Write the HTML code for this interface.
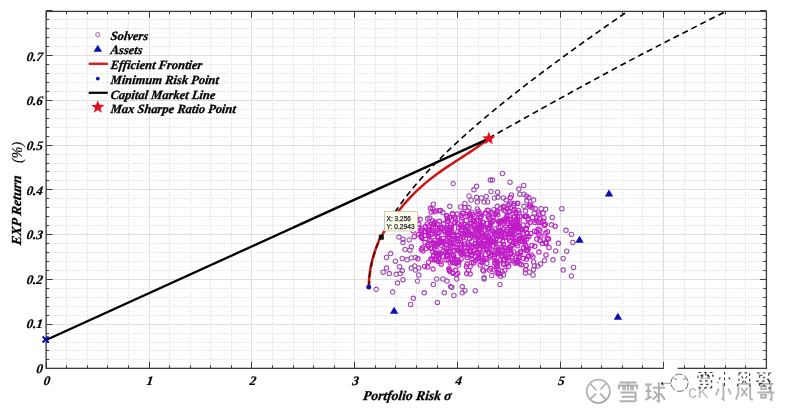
<!DOCTYPE html><html><head><meta charset="utf-8"><style>html,body{margin:0;padding:0;width:800px;height:416px;overflow:hidden;background:#fff}</style></head><body><svg width="800" height="416" viewBox="0 0 800 416" style="position:absolute;left:0;top:0">
<rect x="0" y="0" width="800" height="416" fill="#fff"/>
<defs><filter id="gb" x="0" y="0" width="100%" height="100%" filterUnits="userSpaceOnUse"><feGaussianBlur stdDeviation="0.3"/></filter></defs><g filter="url(#gb)">
<path d="M66.50 11.30V368.30M87.50 11.30V368.30M107.50 11.30V368.30M128.50 11.30V368.30M169.50 11.30V368.30M190.50 11.30V368.30M210.50 11.30V368.30M231.50 11.30V368.30M272.50 11.30V368.30M293.50 11.30V368.30M313.50 11.30V368.30M334.50 11.30V368.30M375.50 11.30V368.30M395.50 11.30V368.30M416.50 11.30V368.30M437.50 11.30V368.30M478.50 11.30V368.30M498.50 11.30V368.30M519.50 11.30V368.30M540.50 11.30V368.30M581.50 11.30V368.30M601.50 11.30V368.30M622.50 11.30V368.30M642.50 11.30V368.30M684.50 11.30V368.30M704.50 11.30V368.30M725.50 11.30V368.30M745.50 11.30V368.30M46.10 359.50H766.40M46.10 350.50H766.40M46.10 342.50H766.40M46.10 333.50H766.40M46.10 315.50H766.40M46.10 306.50H766.40M46.10 297.50H766.40M46.10 288.50H766.40M46.10 270.50H766.40M46.10 261.50H766.40M46.10 252.50H766.40M46.10 243.50H766.40M46.10 225.50H766.40M46.10 216.50H766.40M46.10 207.50H766.40M46.10 198.50H766.40M46.10 180.50H766.40M46.10 171.50H766.40M46.10 163.50H766.40M46.10 154.50H766.40M46.10 136.50H766.40M46.10 127.50H766.40M46.10 118.50H766.40M46.10 109.50H766.40M46.10 91.50H766.40M46.10 82.50H766.40M46.10 73.50H766.40M46.10 64.50H766.40M46.10 46.50H766.40M46.10 37.50H766.40M46.10 28.50H766.40M46.10 19.50H766.40" stroke="#cfcfcf" stroke-width="0.9" stroke-dasharray="0.9 1.8" fill="none"/>
<path d="M149.50 11.30V368.30M251.50 11.30V368.30M354.50 11.30V368.30M457.50 11.30V368.30M560.50 11.30V368.30M663.50 11.30V368.30M46.10 324.50H766.40M46.10 279.50H766.40M46.10 234.50H766.40M46.10 189.50H766.40M46.10 145.50H766.40M46.10 100.50H766.40M46.10 55.50H766.40" stroke="#dedede" stroke-width="1" fill="none"/>
<path d="M46.50 368.30v-6.5M46.50 11.30v6.5M66.50 368.30v-3M66.50 11.30v3M87.50 368.30v-3M87.50 11.30v3M107.50 368.30v-3M107.50 11.30v3M128.50 368.30v-3M128.50 11.30v3M149.50 368.30v-6.5M149.50 11.30v6.5M169.50 368.30v-3M169.50 11.30v3M190.50 368.30v-3M190.50 11.30v3M210.50 368.30v-3M210.50 11.30v3M231.50 368.30v-3M231.50 11.30v3M251.50 368.30v-6.5M251.50 11.30v6.5M272.50 368.30v-3M272.50 11.30v3M293.50 368.30v-3M293.50 11.30v3M313.50 368.30v-3M313.50 11.30v3M334.50 368.30v-3M334.50 11.30v3M354.50 368.30v-6.5M354.50 11.30v6.5M375.50 368.30v-3M375.50 11.30v3M395.50 368.30v-3M395.50 11.30v3M416.50 368.30v-3M416.50 11.30v3M437.50 368.30v-3M437.50 11.30v3M457.50 368.30v-6.5M457.50 11.30v6.5M478.50 368.30v-3M478.50 11.30v3M498.50 368.30v-3M498.50 11.30v3M519.50 368.30v-3M519.50 11.30v3M540.50 368.30v-3M540.50 11.30v3M560.50 368.30v-6.5M560.50 11.30v6.5M581.50 368.30v-3M581.50 11.30v3M601.50 368.30v-3M601.50 11.30v3M622.50 368.30v-3M622.50 11.30v3M642.50 368.30v-3M642.50 11.30v3M663.50 368.30v-6.5M663.50 11.30v6.5M684.50 368.30v-3M684.50 11.30v3M704.50 368.30v-3M704.50 11.30v3M725.50 368.30v-3M725.50 11.30v3M745.50 368.30v-3M745.50 11.30v3M766.50 368.30v-6.5M766.50 11.30v6.5M46.10 368.50h6.5M766.40 368.50h-6.5M46.10 359.50h3M766.40 359.50h-3M46.10 350.50h3M766.40 350.50h-3M46.10 342.50h3M766.40 342.50h-3M46.10 333.50h3M766.40 333.50h-3M46.10 324.50h6.5M766.40 324.50h-6.5M46.10 315.50h3M766.40 315.50h-3M46.10 306.50h3M766.40 306.50h-3M46.10 297.50h3M766.40 297.50h-3M46.10 288.50h3M766.40 288.50h-3M46.10 279.50h6.5M766.40 279.50h-6.5M46.10 270.50h3M766.40 270.50h-3M46.10 261.50h3M766.40 261.50h-3M46.10 252.50h3M766.40 252.50h-3M46.10 243.50h3M766.40 243.50h-3M46.10 234.50h6.5M766.40 234.50h-6.5M46.10 225.50h3M766.40 225.50h-3M46.10 216.50h3M766.40 216.50h-3M46.10 207.50h3M766.40 207.50h-3M46.10 198.50h3M766.40 198.50h-3M46.10 189.50h6.5M766.40 189.50h-6.5M46.10 180.50h3M766.40 180.50h-3M46.10 171.50h3M766.40 171.50h-3M46.10 163.50h3M766.40 163.50h-3M46.10 154.50h3M766.40 154.50h-3M46.10 145.50h6.5M766.40 145.50h-6.5M46.10 136.50h3M766.40 136.50h-3M46.10 127.50h3M766.40 127.50h-3M46.10 118.50h3M766.40 118.50h-3M46.10 109.50h3M766.40 109.50h-3M46.10 100.50h6.5M766.40 100.50h-6.5M46.10 91.50h3M766.40 91.50h-3M46.10 82.50h3M766.40 82.50h-3M46.10 73.50h3M766.40 73.50h-3M46.10 64.50h3M766.40 64.50h-3M46.10 55.50h6.5M766.40 55.50h-6.5M46.10 46.50h3M766.40 46.50h-3M46.10 37.50h3M766.40 37.50h-3M46.10 28.50h3M766.40 28.50h-3M46.10 19.50h3M766.40 19.50h-3M46.10 10.50h6.5M766.40 10.50h-6.5" stroke="#3a3a3a" stroke-width="1" fill="none"/>
<rect x="46.1" y="11.4" width="720.3" height="356.96" stroke="#3a3a3a" stroke-width="1.3" fill="none"/>
<path d="M455.4 183.6a2.2 2.2 0 1 0 -4.4 0a2.2 2.2 0 1 0 4.4 0M478.8 186.3a2.2 2.2 0 1 0 -4.4 0a2.2 2.2 0 1 0 4.4 0M476.1 189.8a2.2 2.2 0 1 0 -4.4 0a2.2 2.2 0 1 0 4.4 0M471.2 196.0a2.2 2.2 0 1 0 -4.4 0a2.2 2.2 0 1 0 4.4 0M478.8 197.3a2.2 2.2 0 1 0 -4.4 0a2.2 2.2 0 1 0 4.4 0M473.3 200.1a2.2 2.2 0 1 0 -4.4 0a2.2 2.2 0 1 0 4.4 0M479.5 202.1a2.2 2.2 0 1 0 -4.4 0a2.2 2.2 0 1 0 4.4 0M467.1 203.5a2.2 2.2 0 1 0 -4.4 0a2.2 2.2 0 1 0 4.4 0M463.0 207.0a2.2 2.2 0 1 0 -4.4 0a2.2 2.2 0 1 0 4.4 0M471.2 207.6a2.2 2.2 0 1 0 -4.4 0a2.2 2.2 0 1 0 4.4 0M452.0 206.3a2.2 2.2 0 1 0 -4.4 0a2.2 2.2 0 1 0 4.4 0M435.5 204.2a2.2 2.2 0 1 0 -4.4 0a2.2 2.2 0 1 0 4.4 0M434.8 209.0a2.2 2.2 0 1 0 -4.4 0a2.2 2.2 0 1 0 4.4 0M436.2 211.8a2.2 2.2 0 1 0 -4.4 0a2.2 2.2 0 1 0 4.4 0M443.0 210.4a2.2 2.2 0 1 0 -4.4 0a2.2 2.2 0 1 0 4.4 0M445.1 212.5a2.2 2.2 0 1 0 -4.4 0a2.2 2.2 0 1 0 4.4 0M454.7 213.8a2.2 2.2 0 1 0 -4.4 0a2.2 2.2 0 1 0 4.4 0M464.4 213.1a2.2 2.2 0 1 0 -4.4 0a2.2 2.2 0 1 0 4.4 0M474.0 212.5a2.2 2.2 0 1 0 -4.4 0a2.2 2.2 0 1 0 4.4 0M479.5 209.0a2.2 2.2 0 1 0 -4.4 0a2.2 2.2 0 1 0 4.4 0M432.0 218.0a2.2 2.2 0 1 0 -4.4 0a2.2 2.2 0 1 0 4.4 0M430.0 218.6a2.2 2.2 0 1 0 -4.4 0a2.2 2.2 0 1 0 4.4 0M449.2 215.9a2.2 2.2 0 1 0 -4.4 0a2.2 2.2 0 1 0 4.4 0M422.4 219.3a2.2 2.2 0 1 0 -4.4 0a2.2 2.2 0 1 0 4.4 0M504.6 173.5a2.2 2.2 0 1 0 -4.4 0a2.2 2.2 0 1 0 4.4 0M492.5 180.1a2.2 2.2 0 1 0 -4.4 0a2.2 2.2 0 1 0 4.4 0M494.6 180.1a2.2 2.2 0 1 0 -4.4 0a2.2 2.2 0 1 0 4.4 0M512.2 182.2a2.2 2.2 0 1 0 -4.4 0a2.2 2.2 0 1 0 4.4 0M525.9 185.4a2.2 2.2 0 1 0 -4.4 0a2.2 2.2 0 1 0 4.4 0M521.1 189.1a2.2 2.2 0 1 0 -4.4 0a2.2 2.2 0 1 0 4.4 0M493.2 191.5a2.2 2.2 0 1 0 -4.4 0a2.2 2.2 0 1 0 4.4 0M499.8 192.2a2.2 2.2 0 1 0 -4.4 0a2.2 2.2 0 1 0 4.4 0M488.4 196.4a2.2 2.2 0 1 0 -4.4 0a2.2 2.2 0 1 0 4.4 0M513.6 195.0a2.2 2.2 0 1 0 -4.4 0a2.2 2.2 0 1 0 4.4 0M522.1 194.2a2.2 2.2 0 1 0 -4.4 0a2.2 2.2 0 1 0 4.4 0M526.2 194.2a2.2 2.2 0 1 0 -4.4 0a2.2 2.2 0 1 0 4.4 0M528.7 196.0a2.2 2.2 0 1 0 -4.4 0a2.2 2.2 0 1 0 4.4 0M496.6 198.0a2.2 2.2 0 1 0 -4.4 0a2.2 2.2 0 1 0 4.4 0M505.6 198.0a2.2 2.2 0 1 0 -4.4 0a2.2 2.2 0 1 0 4.4 0M508.3 200.1a2.2 2.2 0 1 0 -4.4 0a2.2 2.2 0 1 0 4.4 0M483.6 198.0a2.2 2.2 0 1 0 -4.4 0a2.2 2.2 0 1 0 4.4 0M486.3 202.1a2.2 2.2 0 1 0 -4.4 0a2.2 2.2 0 1 0 4.4 0M489.8 201.9a2.2 2.2 0 1 0 -4.4 0a2.2 2.2 0 1 0 4.4 0M500.1 197.3a2.2 2.2 0 1 0 -4.4 0a2.2 2.2 0 1 0 4.4 0M535.8 200.1a2.2 2.2 0 1 0 -4.4 0a2.2 2.2 0 1 0 4.4 0M529.0 200.8a2.2 2.2 0 1 0 -4.4 0a2.2 2.2 0 1 0 4.4 0M516.6 203.5a2.2 2.2 0 1 0 -4.4 0a2.2 2.2 0 1 0 4.4 0M519.3 203.2a2.2 2.2 0 1 0 -4.4 0a2.2 2.2 0 1 0 4.4 0M511.8 204.2a2.2 2.2 0 1 0 -4.4 0a2.2 2.2 0 1 0 4.4 0M499.4 206.3a2.2 2.2 0 1 0 -4.4 0a2.2 2.2 0 1 0 4.4 0M505.6 206.3a2.2 2.2 0 1 0 -4.4 0a2.2 2.2 0 1 0 4.4 0M526.2 206.3a2.2 2.2 0 1 0 -4.4 0a2.2 2.2 0 1 0 4.4 0M534.5 207.6a2.2 2.2 0 1 0 -4.4 0a2.2 2.2 0 1 0 4.4 0M543.4 208.7a2.2 2.2 0 1 0 -4.4 0a2.2 2.2 0 1 0 4.4 0M547.9 209.3a2.2 2.2 0 1 0 -4.4 0a2.2 2.2 0 1 0 4.4 0M564.0 208.7a2.2 2.2 0 1 0 -4.4 0a2.2 2.2 0 1 0 4.4 0M536.5 213.1a2.2 2.2 0 1 0 -4.4 0a2.2 2.2 0 1 0 4.4 0M540.7 212.9a2.2 2.2 0 1 0 -4.4 0a2.2 2.2 0 1 0 4.4 0M527.6 211.1a2.2 2.2 0 1 0 -4.4 0a2.2 2.2 0 1 0 4.4 0M490.5 210.4a2.2 2.2 0 1 0 -4.4 0a2.2 2.2 0 1 0 4.4 0M496.0 209.7a2.2 2.2 0 1 0 -4.4 0a2.2 2.2 0 1 0 4.4 0M507.6 211.1a2.2 2.2 0 1 0 -4.4 0a2.2 2.2 0 1 0 4.4 0M511.8 211.8a2.2 2.2 0 1 0 -4.4 0a2.2 2.2 0 1 0 4.4 0M520.7 210.4a2.2 2.2 0 1 0 -4.4 0a2.2 2.2 0 1 0 4.4 0M554.4 217.5a2.2 2.2 0 1 0 -4.4 0a2.2 2.2 0 1 0 4.4 0M546.2 218.0a2.2 2.2 0 1 0 -4.4 0a2.2 2.2 0 1 0 4.4 0M401.1 237.1a2.2 2.2 0 1 0 -4.4 0a2.2 2.2 0 1 0 4.4 0M405.2 239.2a2.2 2.2 0 1 0 -4.4 0a2.2 2.2 0 1 0 4.4 0M405.2 242.6a2.2 2.2 0 1 0 -4.4 0a2.2 2.2 0 1 0 4.4 0M411.4 239.9a2.2 2.2 0 1 0 -4.4 0a2.2 2.2 0 1 0 4.4 0M413.5 246.8a2.2 2.2 0 1 0 -4.4 0a2.2 2.2 0 1 0 4.4 0M412.1 250.2a2.2 2.2 0 1 0 -4.4 0a2.2 2.2 0 1 0 4.4 0M407.3 249.5a2.2 2.2 0 1 0 -4.4 0a2.2 2.2 0 1 0 4.4 0M392.8 253.6a2.2 2.2 0 1 0 -4.4 0a2.2 2.2 0 1 0 4.4 0M388.7 257.5a2.2 2.2 0 1 0 -4.4 0a2.2 2.2 0 1 0 4.4 0M397.6 261.2a2.2 2.2 0 1 0 -4.4 0a2.2 2.2 0 1 0 4.4 0M404.5 258.5a2.2 2.2 0 1 0 -4.4 0a2.2 2.2 0 1 0 4.4 0M409.3 259.8a2.2 2.2 0 1 0 -4.4 0a2.2 2.2 0 1 0 4.4 0M413.5 258.0a2.2 2.2 0 1 0 -4.4 0a2.2 2.2 0 1 0 4.4 0M417.6 257.5a2.2 2.2 0 1 0 -4.4 0a2.2 2.2 0 1 0 4.4 0M388.7 268.1a2.2 2.2 0 1 0 -4.4 0a2.2 2.2 0 1 0 4.4 0M385.3 272.2a2.2 2.2 0 1 0 -4.4 0a2.2 2.2 0 1 0 4.4 0M391.5 273.6a2.2 2.2 0 1 0 -4.4 0a2.2 2.2 0 1 0 4.4 0M401.8 266.7a2.2 2.2 0 1 0 -4.4 0a2.2 2.2 0 1 0 4.4 0M398.3 274.3a2.2 2.2 0 1 0 -4.4 0a2.2 2.2 0 1 0 4.4 0M402.5 273.6a2.2 2.2 0 1 0 -4.4 0a2.2 2.2 0 1 0 4.4 0M404.5 270.8a2.2 2.2 0 1 0 -4.4 0a2.2 2.2 0 1 0 4.4 0M413.5 268.1a2.2 2.2 0 1 0 -4.4 0a2.2 2.2 0 1 0 4.4 0M416.9 266.0a2.2 2.2 0 1 0 -4.4 0a2.2 2.2 0 1 0 4.4 0M417.6 270.1a2.2 2.2 0 1 0 -4.4 0a2.2 2.2 0 1 0 4.4 0M421.0 268.1a2.2 2.2 0 1 0 -4.4 0a2.2 2.2 0 1 0 4.4 0M421.0 275.0a2.2 2.2 0 1 0 -4.4 0a2.2 2.2 0 1 0 4.4 0M423.1 235.8a2.2 2.2 0 1 0 -4.4 0a2.2 2.2 0 1 0 4.4 0M422.4 230.3a2.2 2.2 0 1 0 -4.4 0a2.2 2.2 0 1 0 4.4 0M420.3 227.5a2.2 2.2 0 1 0 -4.4 0a2.2 2.2 0 1 0 4.4 0M568.2 230.3a2.2 2.2 0 1 0 -4.4 0a2.2 2.2 0 1 0 4.4 0M573.7 234.4a2.2 2.2 0 1 0 -4.4 0a2.2 2.2 0 1 0 4.4 0M575.0 242.4a2.2 2.2 0 1 0 -4.4 0a2.2 2.2 0 1 0 4.4 0M560.6 243.3a2.2 2.2 0 1 0 -4.4 0a2.2 2.2 0 1 0 4.4 0M557.9 250.9a2.2 2.2 0 1 0 -4.4 0a2.2 2.2 0 1 0 4.4 0M568.9 251.2a2.2 2.2 0 1 0 -4.4 0a2.2 2.2 0 1 0 4.4 0M565.4 258.5a2.2 2.2 0 1 0 -4.4 0a2.2 2.2 0 1 0 4.4 0M555.1 259.8a2.2 2.2 0 1 0 -4.4 0a2.2 2.2 0 1 0 4.4 0M575.7 267.4a2.2 2.2 0 1 0 -4.4 0a2.2 2.2 0 1 0 4.4 0M565.4 270.1a2.2 2.2 0 1 0 -4.4 0a2.2 2.2 0 1 0 4.4 0M573.7 275.9a2.2 2.2 0 1 0 -4.4 0a2.2 2.2 0 1 0 4.4 0M553.7 224.8a2.2 2.2 0 1 0 -4.4 0a2.2 2.2 0 1 0 4.4 0M546.8 260.5a2.2 2.2 0 1 0 -4.4 0a2.2 2.2 0 1 0 4.4 0M542.7 264.0a2.2 2.2 0 1 0 -4.4 0a2.2 2.2 0 1 0 4.4 0M535.8 261.9a2.2 2.2 0 1 0 -4.4 0a2.2 2.2 0 1 0 4.4 0M536.5 266.0a2.2 2.2 0 1 0 -4.4 0a2.2 2.2 0 1 0 4.4 0M535.8 269.5a2.2 2.2 0 1 0 -4.4 0a2.2 2.2 0 1 0 4.4 0M540.0 266.0a2.2 2.2 0 1 0 -4.4 0a2.2 2.2 0 1 0 4.4 0M527.6 272.9a2.2 2.2 0 1 0 -4.4 0a2.2 2.2 0 1 0 4.4 0M531.7 272.2a2.2 2.2 0 1 0 -4.4 0a2.2 2.2 0 1 0 4.4 0M535.2 275.0a2.2 2.2 0 1 0 -4.4 0a2.2 2.2 0 1 0 4.4 0M517.3 263.3a2.2 2.2 0 1 0 -4.4 0a2.2 2.2 0 1 0 4.4 0M520.0 261.9a2.2 2.2 0 1 0 -4.4 0a2.2 2.2 0 1 0 4.4 0M506.3 264.6a2.2 2.2 0 1 0 -4.4 0a2.2 2.2 0 1 0 4.4 0M511.1 261.2a2.2 2.2 0 1 0 -4.4 0a2.2 2.2 0 1 0 4.4 0M497.3 263.3a2.2 2.2 0 1 0 -4.4 0a2.2 2.2 0 1 0 4.4 0M498.7 266.7a2.2 2.2 0 1 0 -4.4 0a2.2 2.2 0 1 0 4.4 0M500.8 269.5a2.2 2.2 0 1 0 -4.4 0a2.2 2.2 0 1 0 4.4 0M504.2 271.5a2.2 2.2 0 1 0 -4.4 0a2.2 2.2 0 1 0 4.4 0M505.6 275.0a2.2 2.2 0 1 0 -4.4 0a2.2 2.2 0 1 0 4.4 0M502.8 276.3a2.2 2.2 0 1 0 -4.4 0a2.2 2.2 0 1 0 4.4 0M493.9 275.6a2.2 2.2 0 1 0 -4.4 0a2.2 2.2 0 1 0 4.4 0M486.3 260.5a2.2 2.2 0 1 0 -4.4 0a2.2 2.2 0 1 0 4.4 0M489.1 263.3a2.2 2.2 0 1 0 -4.4 0a2.2 2.2 0 1 0 4.4 0M485.0 270.1a2.2 2.2 0 1 0 -4.4 0a2.2 2.2 0 1 0 4.4 0M488.4 267.4a2.2 2.2 0 1 0 -4.4 0a2.2 2.2 0 1 0 4.4 0M486.3 277.7a2.2 2.2 0 1 0 -4.4 0a2.2 2.2 0 1 0 4.4 0M378.4 289.3a2.2 2.2 0 1 0 -4.4 0a2.2 2.2 0 1 0 4.4 0M399.7 283.1a2.2 2.2 0 1 0 -4.4 0a2.2 2.2 0 1 0 4.4 0M405.2 279.7a2.2 2.2 0 1 0 -4.4 0a2.2 2.2 0 1 0 4.4 0M394.9 292.1a2.2 2.2 0 1 0 -4.4 0a2.2 2.2 0 1 0 4.4 0M419.7 281.1a2.2 2.2 0 1 0 -4.4 0a2.2 2.2 0 1 0 4.4 0M415.5 298.3a2.2 2.2 0 1 0 -4.4 0a2.2 2.2 0 1 0 4.4 0M412.8 304.4a2.2 2.2 0 1 0 -4.4 0a2.2 2.2 0 1 0 4.4 0M426.5 292.8a2.2 2.2 0 1 0 -4.4 0a2.2 2.2 0 1 0 4.4 0M435.5 284.5a2.2 2.2 0 1 0 -4.4 0a2.2 2.2 0 1 0 4.4 0M439.6 302.4a2.2 2.2 0 1 0 -4.4 0a2.2 2.2 0 1 0 4.4 0M446.5 292.8a2.2 2.2 0 1 0 -4.4 0a2.2 2.2 0 1 0 4.4 0M452.7 286.6a2.2 2.2 0 1 0 -4.4 0a2.2 2.2 0 1 0 4.4 0M454.0 287.3a2.2 2.2 0 1 0 -4.4 0a2.2 2.2 0 1 0 4.4 0M449.2 281.1a2.2 2.2 0 1 0 -4.4 0a2.2 2.2 0 1 0 4.4 0M445.1 279.0a2.2 2.2 0 1 0 -4.4 0a2.2 2.2 0 1 0 4.4 0M438.9 279.0a2.2 2.2 0 1 0 -4.4 0a2.2 2.2 0 1 0 4.4 0M458.9 279.0a2.2 2.2 0 1 0 -4.4 0a2.2 2.2 0 1 0 4.4 0M456.1 295.5a2.2 2.2 0 1 0 -4.4 0a2.2 2.2 0 1 0 4.4 0M464.4 286.6a2.2 2.2 0 1 0 -4.4 0a2.2 2.2 0 1 0 4.4 0M464.4 292.8a2.2 2.2 0 1 0 -4.4 0a2.2 2.2 0 1 0 4.4 0M467.1 290.7a2.2 2.2 0 1 0 -4.4 0a2.2 2.2 0 1 0 4.4 0M477.4 290.7a2.2 2.2 0 1 0 -4.4 0a2.2 2.2 0 1 0 4.4 0M486.3 279.0a2.2 2.2 0 1 0 -4.4 0a2.2 2.2 0 1 0 4.4 0M502.1 284.5a2.2 2.2 0 1 0 -4.4 0a2.2 2.2 0 1 0 4.4 0" stroke="#a04ab4" stroke-width="1.1" fill="none"/>
<defs><filter id="bl" x="-5%" y="-5%" width="110%" height="110%"><feGaussianBlur stdDeviation="0.35"/></filter></defs>
<path d="M440.6 237.4a2.2 2.2 0 1 0 -4.4 0a2.2 2.2 0 1 0 4.4 0M440.0 261.1a2.2 2.2 0 1 0 -4.4 0a2.2 2.2 0 1 0 4.4 0M528.0 245.3a2.2 2.2 0 1 0 -4.4 0a2.2 2.2 0 1 0 4.4 0M490.3 229.9a2.2 2.2 0 1 0 -4.4 0a2.2 2.2 0 1 0 4.4 0M492.0 242.9a2.2 2.2 0 1 0 -4.4 0a2.2 2.2 0 1 0 4.4 0M472.7 235.4a2.2 2.2 0 1 0 -4.4 0a2.2 2.2 0 1 0 4.4 0M440.9 255.1a2.2 2.2 0 1 0 -4.4 0a2.2 2.2 0 1 0 4.4 0M468.3 229.7a2.2 2.2 0 1 0 -4.4 0a2.2 2.2 0 1 0 4.4 0M469.5 225.7a2.2 2.2 0 1 0 -4.4 0a2.2 2.2 0 1 0 4.4 0M518.2 226.1a2.2 2.2 0 1 0 -4.4 0a2.2 2.2 0 1 0 4.4 0M455.9 234.6a2.2 2.2 0 1 0 -4.4 0a2.2 2.2 0 1 0 4.4 0M473.0 250.8a2.2 2.2 0 1 0 -4.4 0a2.2 2.2 0 1 0 4.4 0M513.5 246.4a2.2 2.2 0 1 0 -4.4 0a2.2 2.2 0 1 0 4.4 0M430.6 225.9a2.2 2.2 0 1 0 -4.4 0a2.2 2.2 0 1 0 4.4 0M472.5 217.0a2.2 2.2 0 1 0 -4.4 0a2.2 2.2 0 1 0 4.4 0M441.5 221.3a2.2 2.2 0 1 0 -4.4 0a2.2 2.2 0 1 0 4.4 0M492.3 242.7a2.2 2.2 0 1 0 -4.4 0a2.2 2.2 0 1 0 4.4 0M451.3 232.2a2.2 2.2 0 1 0 -4.4 0a2.2 2.2 0 1 0 4.4 0M463.2 229.8a2.2 2.2 0 1 0 -4.4 0a2.2 2.2 0 1 0 4.4 0M472.7 219.4a2.2 2.2 0 1 0 -4.4 0a2.2 2.2 0 1 0 4.4 0M485.8 249.4a2.2 2.2 0 1 0 -4.4 0a2.2 2.2 0 1 0 4.4 0M519.5 220.8a2.2 2.2 0 1 0 -4.4 0a2.2 2.2 0 1 0 4.4 0M470.0 253.7a2.2 2.2 0 1 0 -4.4 0a2.2 2.2 0 1 0 4.4 0M424.0 237.2a2.2 2.2 0 1 0 -4.4 0a2.2 2.2 0 1 0 4.4 0M442.7 228.6a2.2 2.2 0 1 0 -4.4 0a2.2 2.2 0 1 0 4.4 0M511.7 240.7a2.2 2.2 0 1 0 -4.4 0a2.2 2.2 0 1 0 4.4 0M427.2 242.6a2.2 2.2 0 1 0 -4.4 0a2.2 2.2 0 1 0 4.4 0M433.2 240.9a2.2 2.2 0 1 0 -4.4 0a2.2 2.2 0 1 0 4.4 0M489.9 235.6a2.2 2.2 0 1 0 -4.4 0a2.2 2.2 0 1 0 4.4 0M455.2 254.7a2.2 2.2 0 1 0 -4.4 0a2.2 2.2 0 1 0 4.4 0M522.8 253.0a2.2 2.2 0 1 0 -4.4 0a2.2 2.2 0 1 0 4.4 0M491.2 218.4a2.2 2.2 0 1 0 -4.4 0a2.2 2.2 0 1 0 4.4 0M504.2 250.3a2.2 2.2 0 1 0 -4.4 0a2.2 2.2 0 1 0 4.4 0M442.6 254.0a2.2 2.2 0 1 0 -4.4 0a2.2 2.2 0 1 0 4.4 0M465.5 236.8a2.2 2.2 0 1 0 -4.4 0a2.2 2.2 0 1 0 4.4 0M488.5 233.6a2.2 2.2 0 1 0 -4.4 0a2.2 2.2 0 1 0 4.4 0M500.9 230.6a2.2 2.2 0 1 0 -4.4 0a2.2 2.2 0 1 0 4.4 0M481.1 249.0a2.2 2.2 0 1 0 -4.4 0a2.2 2.2 0 1 0 4.4 0M456.8 240.1a2.2 2.2 0 1 0 -4.4 0a2.2 2.2 0 1 0 4.4 0M507.4 255.2a2.2 2.2 0 1 0 -4.4 0a2.2 2.2 0 1 0 4.4 0M500.9 227.3a2.2 2.2 0 1 0 -4.4 0a2.2 2.2 0 1 0 4.4 0M502.5 233.7a2.2 2.2 0 1 0 -4.4 0a2.2 2.2 0 1 0 4.4 0M498.2 248.9a2.2 2.2 0 1 0 -4.4 0a2.2 2.2 0 1 0 4.4 0M467.0 244.0a2.2 2.2 0 1 0 -4.4 0a2.2 2.2 0 1 0 4.4 0M504.4 255.2a2.2 2.2 0 1 0 -4.4 0a2.2 2.2 0 1 0 4.4 0M514.8 213.3a2.2 2.2 0 1 0 -4.4 0a2.2 2.2 0 1 0 4.4 0M433.7 247.8a2.2 2.2 0 1 0 -4.4 0a2.2 2.2 0 1 0 4.4 0M515.7 222.9a2.2 2.2 0 1 0 -4.4 0a2.2 2.2 0 1 0 4.4 0M478.0 240.1a2.2 2.2 0 1 0 -4.4 0a2.2 2.2 0 1 0 4.4 0M512.2 225.3a2.2 2.2 0 1 0 -4.4 0a2.2 2.2 0 1 0 4.4 0M482.3 218.1a2.2 2.2 0 1 0 -4.4 0a2.2 2.2 0 1 0 4.4 0M496.7 242.0a2.2 2.2 0 1 0 -4.4 0a2.2 2.2 0 1 0 4.4 0M509.1 250.3a2.2 2.2 0 1 0 -4.4 0a2.2 2.2 0 1 0 4.4 0M437.2 222.0a2.2 2.2 0 1 0 -4.4 0a2.2 2.2 0 1 0 4.4 0M447.0 232.0a2.2 2.2 0 1 0 -4.4 0a2.2 2.2 0 1 0 4.4 0M472.5 252.7a2.2 2.2 0 1 0 -4.4 0a2.2 2.2 0 1 0 4.4 0M471.8 250.4a2.2 2.2 0 1 0 -4.4 0a2.2 2.2 0 1 0 4.4 0M485.4 222.6a2.2 2.2 0 1 0 -4.4 0a2.2 2.2 0 1 0 4.4 0M526.4 240.1a2.2 2.2 0 1 0 -4.4 0a2.2 2.2 0 1 0 4.4 0M489.6 249.8a2.2 2.2 0 1 0 -4.4 0a2.2 2.2 0 1 0 4.4 0M447.8 252.8a2.2 2.2 0 1 0 -4.4 0a2.2 2.2 0 1 0 4.4 0M479.8 238.3a2.2 2.2 0 1 0 -4.4 0a2.2 2.2 0 1 0 4.4 0M471.6 214.5a2.2 2.2 0 1 0 -4.4 0a2.2 2.2 0 1 0 4.4 0M459.6 223.2a2.2 2.2 0 1 0 -4.4 0a2.2 2.2 0 1 0 4.4 0M463.9 244.9a2.2 2.2 0 1 0 -4.4 0a2.2 2.2 0 1 0 4.4 0M507.5 237.2a2.2 2.2 0 1 0 -4.4 0a2.2 2.2 0 1 0 4.4 0M465.3 213.5a2.2 2.2 0 1 0 -4.4 0a2.2 2.2 0 1 0 4.4 0M430.6 235.7a2.2 2.2 0 1 0 -4.4 0a2.2 2.2 0 1 0 4.4 0M459.0 248.2a2.2 2.2 0 1 0 -4.4 0a2.2 2.2 0 1 0 4.4 0M498.9 235.9a2.2 2.2 0 1 0 -4.4 0a2.2 2.2 0 1 0 4.4 0M505.5 207.7a2.2 2.2 0 1 0 -4.4 0a2.2 2.2 0 1 0 4.4 0M445.8 224.0a2.2 2.2 0 1 0 -4.4 0a2.2 2.2 0 1 0 4.4 0M493.1 256.2a2.2 2.2 0 1 0 -4.4 0a2.2 2.2 0 1 0 4.4 0M482.7 217.5a2.2 2.2 0 1 0 -4.4 0a2.2 2.2 0 1 0 4.4 0M463.7 227.1a2.2 2.2 0 1 0 -4.4 0a2.2 2.2 0 1 0 4.4 0M522.2 228.6a2.2 2.2 0 1 0 -4.4 0a2.2 2.2 0 1 0 4.4 0M452.5 263.1a2.2 2.2 0 1 0 -4.4 0a2.2 2.2 0 1 0 4.4 0M441.6 240.1a2.2 2.2 0 1 0 -4.4 0a2.2 2.2 0 1 0 4.4 0M472.9 250.5a2.2 2.2 0 1 0 -4.4 0a2.2 2.2 0 1 0 4.4 0M435.5 230.7a2.2 2.2 0 1 0 -4.4 0a2.2 2.2 0 1 0 4.4 0M468.9 230.8a2.2 2.2 0 1 0 -4.4 0a2.2 2.2 0 1 0 4.4 0M424.5 228.7a2.2 2.2 0 1 0 -4.4 0a2.2 2.2 0 1 0 4.4 0M440.7 259.0a2.2 2.2 0 1 0 -4.4 0a2.2 2.2 0 1 0 4.4 0M483.8 233.6a2.2 2.2 0 1 0 -4.4 0a2.2 2.2 0 1 0 4.4 0M457.1 217.1a2.2 2.2 0 1 0 -4.4 0a2.2 2.2 0 1 0 4.4 0M453.5 227.3a2.2 2.2 0 1 0 -4.4 0a2.2 2.2 0 1 0 4.4 0M456.3 235.2a2.2 2.2 0 1 0 -4.4 0a2.2 2.2 0 1 0 4.4 0M493.6 222.7a2.2 2.2 0 1 0 -4.4 0a2.2 2.2 0 1 0 4.4 0M504.6 236.5a2.2 2.2 0 1 0 -4.4 0a2.2 2.2 0 1 0 4.4 0M492.9 243.0a2.2 2.2 0 1 0 -4.4 0a2.2 2.2 0 1 0 4.4 0M460.0 241.2a2.2 2.2 0 1 0 -4.4 0a2.2 2.2 0 1 0 4.4 0M464.3 234.7a2.2 2.2 0 1 0 -4.4 0a2.2 2.2 0 1 0 4.4 0M508.4 217.9a2.2 2.2 0 1 0 -4.4 0a2.2 2.2 0 1 0 4.4 0M438.1 243.4a2.2 2.2 0 1 0 -4.4 0a2.2 2.2 0 1 0 4.4 0M514.8 244.7a2.2 2.2 0 1 0 -4.4 0a2.2 2.2 0 1 0 4.4 0M476.2 234.3a2.2 2.2 0 1 0 -4.4 0a2.2 2.2 0 1 0 4.4 0M475.8 224.9a2.2 2.2 0 1 0 -4.4 0a2.2 2.2 0 1 0 4.4 0M510.7 238.0a2.2 2.2 0 1 0 -4.4 0a2.2 2.2 0 1 0 4.4 0M451.8 271.3a2.2 2.2 0 1 0 -4.4 0a2.2 2.2 0 1 0 4.4 0M438.7 256.2a2.2 2.2 0 1 0 -4.4 0a2.2 2.2 0 1 0 4.4 0M493.6 249.7a2.2 2.2 0 1 0 -4.4 0a2.2 2.2 0 1 0 4.4 0M491.5 238.8a2.2 2.2 0 1 0 -4.4 0a2.2 2.2 0 1 0 4.4 0M437.7 226.7a2.2 2.2 0 1 0 -4.4 0a2.2 2.2 0 1 0 4.4 0M433.5 224.0a2.2 2.2 0 1 0 -4.4 0a2.2 2.2 0 1 0 4.4 0M455.9 255.5a2.2 2.2 0 1 0 -4.4 0a2.2 2.2 0 1 0 4.4 0M506.1 223.5a2.2 2.2 0 1 0 -4.4 0a2.2 2.2 0 1 0 4.4 0M449.3 228.1a2.2 2.2 0 1 0 -4.4 0a2.2 2.2 0 1 0 4.4 0M486.3 236.4a2.2 2.2 0 1 0 -4.4 0a2.2 2.2 0 1 0 4.4 0M483.8 255.1a2.2 2.2 0 1 0 -4.4 0a2.2 2.2 0 1 0 4.4 0M518.4 222.5a2.2 2.2 0 1 0 -4.4 0a2.2 2.2 0 1 0 4.4 0M510.1 223.7a2.2 2.2 0 1 0 -4.4 0a2.2 2.2 0 1 0 4.4 0M451.1 268.8a2.2 2.2 0 1 0 -4.4 0a2.2 2.2 0 1 0 4.4 0M460.0 262.7a2.2 2.2 0 1 0 -4.4 0a2.2 2.2 0 1 0 4.4 0M473.8 241.0a2.2 2.2 0 1 0 -4.4 0a2.2 2.2 0 1 0 4.4 0M423.6 249.5a2.2 2.2 0 1 0 -4.4 0a2.2 2.2 0 1 0 4.4 0M528.8 238.9a2.2 2.2 0 1 0 -4.4 0a2.2 2.2 0 1 0 4.4 0M516.1 239.4a2.2 2.2 0 1 0 -4.4 0a2.2 2.2 0 1 0 4.4 0M493.5 254.1a2.2 2.2 0 1 0 -4.4 0a2.2 2.2 0 1 0 4.4 0M438.0 246.4a2.2 2.2 0 1 0 -4.4 0a2.2 2.2 0 1 0 4.4 0M451.6 217.6a2.2 2.2 0 1 0 -4.4 0a2.2 2.2 0 1 0 4.4 0M472.1 245.5a2.2 2.2 0 1 0 -4.4 0a2.2 2.2 0 1 0 4.4 0M448.8 215.9a2.2 2.2 0 1 0 -4.4 0a2.2 2.2 0 1 0 4.4 0M441.3 232.5a2.2 2.2 0 1 0 -4.4 0a2.2 2.2 0 1 0 4.4 0M511.3 210.9a2.2 2.2 0 1 0 -4.4 0a2.2 2.2 0 1 0 4.4 0M445.6 256.2a2.2 2.2 0 1 0 -4.4 0a2.2 2.2 0 1 0 4.4 0M435.9 254.9a2.2 2.2 0 1 0 -4.4 0a2.2 2.2 0 1 0 4.4 0M476.7 216.4a2.2 2.2 0 1 0 -4.4 0a2.2 2.2 0 1 0 4.4 0M486.7 245.8a2.2 2.2 0 1 0 -4.4 0a2.2 2.2 0 1 0 4.4 0M517.3 241.1a2.2 2.2 0 1 0 -4.4 0a2.2 2.2 0 1 0 4.4 0M503.0 231.1a2.2 2.2 0 1 0 -4.4 0a2.2 2.2 0 1 0 4.4 0M424.1 238.2a2.2 2.2 0 1 0 -4.4 0a2.2 2.2 0 1 0 4.4 0M452.7 225.0a2.2 2.2 0 1 0 -4.4 0a2.2 2.2 0 1 0 4.4 0M431.7 239.7a2.2 2.2 0 1 0 -4.4 0a2.2 2.2 0 1 0 4.4 0M438.2 210.9a2.2 2.2 0 1 0 -4.4 0a2.2 2.2 0 1 0 4.4 0M441.2 210.7a2.2 2.2 0 1 0 -4.4 0a2.2 2.2 0 1 0 4.4 0M481.7 244.7a2.2 2.2 0 1 0 -4.4 0a2.2 2.2 0 1 0 4.4 0M430.8 229.9a2.2 2.2 0 1 0 -4.4 0a2.2 2.2 0 1 0 4.4 0M515.9 251.9a2.2 2.2 0 1 0 -4.4 0a2.2 2.2 0 1 0 4.4 0M437.1 232.4a2.2 2.2 0 1 0 -4.4 0a2.2 2.2 0 1 0 4.4 0M430.4 233.0a2.2 2.2 0 1 0 -4.4 0a2.2 2.2 0 1 0 4.4 0M482.5 265.1a2.2 2.2 0 1 0 -4.4 0a2.2 2.2 0 1 0 4.4 0M475.3 247.3a2.2 2.2 0 1 0 -4.4 0a2.2 2.2 0 1 0 4.4 0M479.6 252.0a2.2 2.2 0 1 0 -4.4 0a2.2 2.2 0 1 0 4.4 0M481.4 229.1a2.2 2.2 0 1 0 -4.4 0a2.2 2.2 0 1 0 4.4 0M496.7 254.5a2.2 2.2 0 1 0 -4.4 0a2.2 2.2 0 1 0 4.4 0M441.6 243.2a2.2 2.2 0 1 0 -4.4 0a2.2 2.2 0 1 0 4.4 0M517.6 227.2a2.2 2.2 0 1 0 -4.4 0a2.2 2.2 0 1 0 4.4 0M476.5 220.8a2.2 2.2 0 1 0 -4.4 0a2.2 2.2 0 1 0 4.4 0M451.7 227.1a2.2 2.2 0 1 0 -4.4 0a2.2 2.2 0 1 0 4.4 0M466.6 224.6a2.2 2.2 0 1 0 -4.4 0a2.2 2.2 0 1 0 4.4 0M514.4 223.8a2.2 2.2 0 1 0 -4.4 0a2.2 2.2 0 1 0 4.4 0M439.9 232.4a2.2 2.2 0 1 0 -4.4 0a2.2 2.2 0 1 0 4.4 0M528.3 229.6a2.2 2.2 0 1 0 -4.4 0a2.2 2.2 0 1 0 4.4 0M440.3 261.6a2.2 2.2 0 1 0 -4.4 0a2.2 2.2 0 1 0 4.4 0M427.8 235.3a2.2 2.2 0 1 0 -4.4 0a2.2 2.2 0 1 0 4.4 0M503.0 226.5a2.2 2.2 0 1 0 -4.4 0a2.2 2.2 0 1 0 4.4 0M444.8 229.0a2.2 2.2 0 1 0 -4.4 0a2.2 2.2 0 1 0 4.4 0M469.2 264.1a2.2 2.2 0 1 0 -4.4 0a2.2 2.2 0 1 0 4.4 0M463.2 252.4a2.2 2.2 0 1 0 -4.4 0a2.2 2.2 0 1 0 4.4 0M519.8 245.8a2.2 2.2 0 1 0 -4.4 0a2.2 2.2 0 1 0 4.4 0M521.3 256.5a2.2 2.2 0 1 0 -4.4 0a2.2 2.2 0 1 0 4.4 0M477.7 260.7a2.2 2.2 0 1 0 -4.4 0a2.2 2.2 0 1 0 4.4 0M478.8 220.8a2.2 2.2 0 1 0 -4.4 0a2.2 2.2 0 1 0 4.4 0M490.9 252.4a2.2 2.2 0 1 0 -4.4 0a2.2 2.2 0 1 0 4.4 0M500.7 221.8a2.2 2.2 0 1 0 -4.4 0a2.2 2.2 0 1 0 4.4 0M479.8 228.4a2.2 2.2 0 1 0 -4.4 0a2.2 2.2 0 1 0 4.4 0M486.8 230.4a2.2 2.2 0 1 0 -4.4 0a2.2 2.2 0 1 0 4.4 0M436.6 222.9a2.2 2.2 0 1 0 -4.4 0a2.2 2.2 0 1 0 4.4 0M452.8 252.0a2.2 2.2 0 1 0 -4.4 0a2.2 2.2 0 1 0 4.4 0M509.2 216.6a2.2 2.2 0 1 0 -4.4 0a2.2 2.2 0 1 0 4.4 0M470.1 210.9a2.2 2.2 0 1 0 -4.4 0a2.2 2.2 0 1 0 4.4 0M462.4 250.9a2.2 2.2 0 1 0 -4.4 0a2.2 2.2 0 1 0 4.4 0M442.9 227.2a2.2 2.2 0 1 0 -4.4 0a2.2 2.2 0 1 0 4.4 0M472.3 245.3a2.2 2.2 0 1 0 -4.4 0a2.2 2.2 0 1 0 4.4 0M504.3 246.9a2.2 2.2 0 1 0 -4.4 0a2.2 2.2 0 1 0 4.4 0M513.3 227.1a2.2 2.2 0 1 0 -4.4 0a2.2 2.2 0 1 0 4.4 0M524.2 241.5a2.2 2.2 0 1 0 -4.4 0a2.2 2.2 0 1 0 4.4 0M492.6 243.6a2.2 2.2 0 1 0 -4.4 0a2.2 2.2 0 1 0 4.4 0M480.8 236.0a2.2 2.2 0 1 0 -4.4 0a2.2 2.2 0 1 0 4.4 0M468.0 234.2a2.2 2.2 0 1 0 -4.4 0a2.2 2.2 0 1 0 4.4 0M495.3 217.4a2.2 2.2 0 1 0 -4.4 0a2.2 2.2 0 1 0 4.4 0M480.1 213.9a2.2 2.2 0 1 0 -4.4 0a2.2 2.2 0 1 0 4.4 0M467.0 207.7a2.2 2.2 0 1 0 -4.4 0a2.2 2.2 0 1 0 4.4 0M481.2 230.3a2.2 2.2 0 1 0 -4.4 0a2.2 2.2 0 1 0 4.4 0M449.8 234.2a2.2 2.2 0 1 0 -4.4 0a2.2 2.2 0 1 0 4.4 0M491.3 227.6a2.2 2.2 0 1 0 -4.4 0a2.2 2.2 0 1 0 4.4 0M455.0 239.4a2.2 2.2 0 1 0 -4.4 0a2.2 2.2 0 1 0 4.4 0M436.3 243.9a2.2 2.2 0 1 0 -4.4 0a2.2 2.2 0 1 0 4.4 0M495.6 240.4a2.2 2.2 0 1 0 -4.4 0a2.2 2.2 0 1 0 4.4 0M519.6 220.9a2.2 2.2 0 1 0 -4.4 0a2.2 2.2 0 1 0 4.4 0M482.8 236.8a2.2 2.2 0 1 0 -4.4 0a2.2 2.2 0 1 0 4.4 0M508.1 231.2a2.2 2.2 0 1 0 -4.4 0a2.2 2.2 0 1 0 4.4 0M455.5 236.6a2.2 2.2 0 1 0 -4.4 0a2.2 2.2 0 1 0 4.4 0M485.8 235.3a2.2 2.2 0 1 0 -4.4 0a2.2 2.2 0 1 0 4.4 0M470.9 231.6a2.2 2.2 0 1 0 -4.4 0a2.2 2.2 0 1 0 4.4 0M452.4 241.9a2.2 2.2 0 1 0 -4.4 0a2.2 2.2 0 1 0 4.4 0M453.0 247.3a2.2 2.2 0 1 0 -4.4 0a2.2 2.2 0 1 0 4.4 0M506.1 247.7a2.2 2.2 0 1 0 -4.4 0a2.2 2.2 0 1 0 4.4 0M492.2 242.3a2.2 2.2 0 1 0 -4.4 0a2.2 2.2 0 1 0 4.4 0M518.6 219.3a2.2 2.2 0 1 0 -4.4 0a2.2 2.2 0 1 0 4.4 0M433.0 234.3a2.2 2.2 0 1 0 -4.4 0a2.2 2.2 0 1 0 4.4 0M492.4 225.4a2.2 2.2 0 1 0 -4.4 0a2.2 2.2 0 1 0 4.4 0M506.4 236.9a2.2 2.2 0 1 0 -4.4 0a2.2 2.2 0 1 0 4.4 0M454.0 256.0a2.2 2.2 0 1 0 -4.4 0a2.2 2.2 0 1 0 4.4 0M429.4 224.0a2.2 2.2 0 1 0 -4.4 0a2.2 2.2 0 1 0 4.4 0M473.5 222.8a2.2 2.2 0 1 0 -4.4 0a2.2 2.2 0 1 0 4.4 0M439.3 223.9a2.2 2.2 0 1 0 -4.4 0a2.2 2.2 0 1 0 4.4 0M503.6 253.0a2.2 2.2 0 1 0 -4.4 0a2.2 2.2 0 1 0 4.4 0M449.9 221.5a2.2 2.2 0 1 0 -4.4 0a2.2 2.2 0 1 0 4.4 0M499.1 212.2a2.2 2.2 0 1 0 -4.4 0a2.2 2.2 0 1 0 4.4 0M462.8 252.9a2.2 2.2 0 1 0 -4.4 0a2.2 2.2 0 1 0 4.4 0M433.3 234.2a2.2 2.2 0 1 0 -4.4 0a2.2 2.2 0 1 0 4.4 0M445.8 251.0a2.2 2.2 0 1 0 -4.4 0a2.2 2.2 0 1 0 4.4 0M430.8 234.9a2.2 2.2 0 1 0 -4.4 0a2.2 2.2 0 1 0 4.4 0M432.5 248.0a2.2 2.2 0 1 0 -4.4 0a2.2 2.2 0 1 0 4.4 0M415.5 230.9a2.2 2.2 0 1 0 -4.4 0a2.2 2.2 0 1 0 4.4 0M495.8 214.8a2.2 2.2 0 1 0 -4.4 0a2.2 2.2 0 1 0 4.4 0M463.8 224.2a2.2 2.2 0 1 0 -4.4 0a2.2 2.2 0 1 0 4.4 0M462.5 238.3a2.2 2.2 0 1 0 -4.4 0a2.2 2.2 0 1 0 4.4 0M498.9 247.1a2.2 2.2 0 1 0 -4.4 0a2.2 2.2 0 1 0 4.4 0M446.4 247.6a2.2 2.2 0 1 0 -4.4 0a2.2 2.2 0 1 0 4.4 0M492.0 241.4a2.2 2.2 0 1 0 -4.4 0a2.2 2.2 0 1 0 4.4 0M433.2 259.1a2.2 2.2 0 1 0 -4.4 0a2.2 2.2 0 1 0 4.4 0M434.2 234.2a2.2 2.2 0 1 0 -4.4 0a2.2 2.2 0 1 0 4.4 0M449.0 255.3a2.2 2.2 0 1 0 -4.4 0a2.2 2.2 0 1 0 4.4 0M458.8 259.8a2.2 2.2 0 1 0 -4.4 0a2.2 2.2 0 1 0 4.4 0M428.2 248.5a2.2 2.2 0 1 0 -4.4 0a2.2 2.2 0 1 0 4.4 0M510.4 221.2a2.2 2.2 0 1 0 -4.4 0a2.2 2.2 0 1 0 4.4 0M468.8 254.9a2.2 2.2 0 1 0 -4.4 0a2.2 2.2 0 1 0 4.4 0M477.7 233.5a2.2 2.2 0 1 0 -4.4 0a2.2 2.2 0 1 0 4.4 0M445.9 223.9a2.2 2.2 0 1 0 -4.4 0a2.2 2.2 0 1 0 4.4 0M439.0 250.7a2.2 2.2 0 1 0 -4.4 0a2.2 2.2 0 1 0 4.4 0M445.7 238.3a2.2 2.2 0 1 0 -4.4 0a2.2 2.2 0 1 0 4.4 0M484.4 245.4a2.2 2.2 0 1 0 -4.4 0a2.2 2.2 0 1 0 4.4 0M460.9 265.1a2.2 2.2 0 1 0 -4.4 0a2.2 2.2 0 1 0 4.4 0M519.2 227.8a2.2 2.2 0 1 0 -4.4 0a2.2 2.2 0 1 0 4.4 0M467.4 235.4a2.2 2.2 0 1 0 -4.4 0a2.2 2.2 0 1 0 4.4 0M431.0 230.4a2.2 2.2 0 1 0 -4.4 0a2.2 2.2 0 1 0 4.4 0M463.5 254.2a2.2 2.2 0 1 0 -4.4 0a2.2 2.2 0 1 0 4.4 0M517.3 223.4a2.2 2.2 0 1 0 -4.4 0a2.2 2.2 0 1 0 4.4 0M452.7 227.8a2.2 2.2 0 1 0 -4.4 0a2.2 2.2 0 1 0 4.4 0M505.6 260.1a2.2 2.2 0 1 0 -4.4 0a2.2 2.2 0 1 0 4.4 0M476.3 250.2a2.2 2.2 0 1 0 -4.4 0a2.2 2.2 0 1 0 4.4 0M502.7 235.5a2.2 2.2 0 1 0 -4.4 0a2.2 2.2 0 1 0 4.4 0M488.2 245.5a2.2 2.2 0 1 0 -4.4 0a2.2 2.2 0 1 0 4.4 0M459.6 235.6a2.2 2.2 0 1 0 -4.4 0a2.2 2.2 0 1 0 4.4 0M442.6 261.5a2.2 2.2 0 1 0 -4.4 0a2.2 2.2 0 1 0 4.4 0M459.7 238.4a2.2 2.2 0 1 0 -4.4 0a2.2 2.2 0 1 0 4.4 0M492.1 247.6a2.2 2.2 0 1 0 -4.4 0a2.2 2.2 0 1 0 4.4 0M484.7 236.7a2.2 2.2 0 1 0 -4.4 0a2.2 2.2 0 1 0 4.4 0M511.9 226.0a2.2 2.2 0 1 0 -4.4 0a2.2 2.2 0 1 0 4.4 0M496.2 237.4a2.2 2.2 0 1 0 -4.4 0a2.2 2.2 0 1 0 4.4 0M450.9 252.5a2.2 2.2 0 1 0 -4.4 0a2.2 2.2 0 1 0 4.4 0M520.7 225.9a2.2 2.2 0 1 0 -4.4 0a2.2 2.2 0 1 0 4.4 0M493.7 242.7a2.2 2.2 0 1 0 -4.4 0a2.2 2.2 0 1 0 4.4 0M519.9 224.2a2.2 2.2 0 1 0 -4.4 0a2.2 2.2 0 1 0 4.4 0M441.3 254.2a2.2 2.2 0 1 0 -4.4 0a2.2 2.2 0 1 0 4.4 0M427.3 231.2a2.2 2.2 0 1 0 -4.4 0a2.2 2.2 0 1 0 4.4 0M473.3 246.7a2.2 2.2 0 1 0 -4.4 0a2.2 2.2 0 1 0 4.4 0M435.1 252.3a2.2 2.2 0 1 0 -4.4 0a2.2 2.2 0 1 0 4.4 0M460.8 227.7a2.2 2.2 0 1 0 -4.4 0a2.2 2.2 0 1 0 4.4 0M464.8 250.8a2.2 2.2 0 1 0 -4.4 0a2.2 2.2 0 1 0 4.4 0M494.9 221.5a2.2 2.2 0 1 0 -4.4 0a2.2 2.2 0 1 0 4.4 0M512.8 252.3a2.2 2.2 0 1 0 -4.4 0a2.2 2.2 0 1 0 4.4 0M505.5 220.4a2.2 2.2 0 1 0 -4.4 0a2.2 2.2 0 1 0 4.4 0M446.7 228.5a2.2 2.2 0 1 0 -4.4 0a2.2 2.2 0 1 0 4.4 0M452.4 245.2a2.2 2.2 0 1 0 -4.4 0a2.2 2.2 0 1 0 4.4 0M463.9 247.9a2.2 2.2 0 1 0 -4.4 0a2.2 2.2 0 1 0 4.4 0M510.1 249.3a2.2 2.2 0 1 0 -4.4 0a2.2 2.2 0 1 0 4.4 0M484.7 225.6a2.2 2.2 0 1 0 -4.4 0a2.2 2.2 0 1 0 4.4 0M432.5 229.5a2.2 2.2 0 1 0 -4.4 0a2.2 2.2 0 1 0 4.4 0M490.4 217.0a2.2 2.2 0 1 0 -4.4 0a2.2 2.2 0 1 0 4.4 0M503.1 255.5a2.2 2.2 0 1 0 -4.4 0a2.2 2.2 0 1 0 4.4 0M455.1 247.3a2.2 2.2 0 1 0 -4.4 0a2.2 2.2 0 1 0 4.4 0M480.5 211.2a2.2 2.2 0 1 0 -4.4 0a2.2 2.2 0 1 0 4.4 0M438.7 244.9a2.2 2.2 0 1 0 -4.4 0a2.2 2.2 0 1 0 4.4 0M451.1 250.7a2.2 2.2 0 1 0 -4.4 0a2.2 2.2 0 1 0 4.4 0M439.2 255.9a2.2 2.2 0 1 0 -4.4 0a2.2 2.2 0 1 0 4.4 0M467.9 232.2a2.2 2.2 0 1 0 -4.4 0a2.2 2.2 0 1 0 4.4 0M512.2 235.0a2.2 2.2 0 1 0 -4.4 0a2.2 2.2 0 1 0 4.4 0M517.1 225.0a2.2 2.2 0 1 0 -4.4 0a2.2 2.2 0 1 0 4.4 0M470.4 235.3a2.2 2.2 0 1 0 -4.4 0a2.2 2.2 0 1 0 4.4 0M492.1 226.0a2.2 2.2 0 1 0 -4.4 0a2.2 2.2 0 1 0 4.4 0M430.6 246.6a2.2 2.2 0 1 0 -4.4 0a2.2 2.2 0 1 0 4.4 0M475.6 221.9a2.2 2.2 0 1 0 -4.4 0a2.2 2.2 0 1 0 4.4 0M500.6 249.3a2.2 2.2 0 1 0 -4.4 0a2.2 2.2 0 1 0 4.4 0M468.5 220.5a2.2 2.2 0 1 0 -4.4 0a2.2 2.2 0 1 0 4.4 0M483.4 225.0a2.2 2.2 0 1 0 -4.4 0a2.2 2.2 0 1 0 4.4 0M436.3 259.9a2.2 2.2 0 1 0 -4.4 0a2.2 2.2 0 1 0 4.4 0M481.1 230.0a2.2 2.2 0 1 0 -4.4 0a2.2 2.2 0 1 0 4.4 0M473.2 223.9a2.2 2.2 0 1 0 -4.4 0a2.2 2.2 0 1 0 4.4 0M498.4 238.4a2.2 2.2 0 1 0 -4.4 0a2.2 2.2 0 1 0 4.4 0M474.0 235.7a2.2 2.2 0 1 0 -4.4 0a2.2 2.2 0 1 0 4.4 0M509.2 215.6a2.2 2.2 0 1 0 -4.4 0a2.2 2.2 0 1 0 4.4 0M513.8 222.3a2.2 2.2 0 1 0 -4.4 0a2.2 2.2 0 1 0 4.4 0M436.3 243.9a2.2 2.2 0 1 0 -4.4 0a2.2 2.2 0 1 0 4.4 0M499.1 235.1a2.2 2.2 0 1 0 -4.4 0a2.2 2.2 0 1 0 4.4 0M430.0 244.7a2.2 2.2 0 1 0 -4.4 0a2.2 2.2 0 1 0 4.4 0M513.8 230.8a2.2 2.2 0 1 0 -4.4 0a2.2 2.2 0 1 0 4.4 0M480.3 257.8a2.2 2.2 0 1 0 -4.4 0a2.2 2.2 0 1 0 4.4 0M456.7 217.0a2.2 2.2 0 1 0 -4.4 0a2.2 2.2 0 1 0 4.4 0M529.3 236.2a2.2 2.2 0 1 0 -4.4 0a2.2 2.2 0 1 0 4.4 0M472.0 213.8a2.2 2.2 0 1 0 -4.4 0a2.2 2.2 0 1 0 4.4 0M457.0 262.3a2.2 2.2 0 1 0 -4.4 0a2.2 2.2 0 1 0 4.4 0M510.1 257.8a2.2 2.2 0 1 0 -4.4 0a2.2 2.2 0 1 0 4.4 0M524.8 238.1a2.2 2.2 0 1 0 -4.4 0a2.2 2.2 0 1 0 4.4 0M465.8 253.8a2.2 2.2 0 1 0 -4.4 0a2.2 2.2 0 1 0 4.4 0M449.2 221.5a2.2 2.2 0 1 0 -4.4 0a2.2 2.2 0 1 0 4.4 0M543.1 236.2a2.2 2.2 0 1 0 -4.4 0a2.2 2.2 0 1 0 4.4 0M522.7 251.4a2.2 2.2 0 1 0 -4.4 0a2.2 2.2 0 1 0 4.4 0M457.8 270.3a2.2 2.2 0 1 0 -4.4 0a2.2 2.2 0 1 0 4.4 0M479.2 234.8a2.2 2.2 0 1 0 -4.4 0a2.2 2.2 0 1 0 4.4 0M530.3 249.2a2.2 2.2 0 1 0 -4.4 0a2.2 2.2 0 1 0 4.4 0M481.8 213.5a2.2 2.2 0 1 0 -4.4 0a2.2 2.2 0 1 0 4.4 0M464.0 217.8a2.2 2.2 0 1 0 -4.4 0a2.2 2.2 0 1 0 4.4 0M454.4 272.2a2.2 2.2 0 1 0 -4.4 0a2.2 2.2 0 1 0 4.4 0M460.6 235.2a2.2 2.2 0 1 0 -4.4 0a2.2 2.2 0 1 0 4.4 0M442.6 243.1a2.2 2.2 0 1 0 -4.4 0a2.2 2.2 0 1 0 4.4 0M456.5 222.9a2.2 2.2 0 1 0 -4.4 0a2.2 2.2 0 1 0 4.4 0M423.9 230.6a2.2 2.2 0 1 0 -4.4 0a2.2 2.2 0 1 0 4.4 0M511.4 234.7a2.2 2.2 0 1 0 -4.4 0a2.2 2.2 0 1 0 4.4 0M470.2 244.0a2.2 2.2 0 1 0 -4.4 0a2.2 2.2 0 1 0 4.4 0M424.6 247.8a2.2 2.2 0 1 0 -4.4 0a2.2 2.2 0 1 0 4.4 0M548.1 233.1a2.2 2.2 0 1 0 -4.4 0a2.2 2.2 0 1 0 4.4 0M427.6 226.5a2.2 2.2 0 1 0 -4.4 0a2.2 2.2 0 1 0 4.4 0M541.2 214.8a2.2 2.2 0 1 0 -4.4 0a2.2 2.2 0 1 0 4.4 0M450.7 220.3a2.2 2.2 0 1 0 -4.4 0a2.2 2.2 0 1 0 4.4 0M547.7 242.7a2.2 2.2 0 1 0 -4.4 0a2.2 2.2 0 1 0 4.4 0M459.2 250.2a2.2 2.2 0 1 0 -4.4 0a2.2 2.2 0 1 0 4.4 0M530.3 220.0a2.2 2.2 0 1 0 -4.4 0a2.2 2.2 0 1 0 4.4 0M475.5 220.5a2.2 2.2 0 1 0 -4.4 0a2.2 2.2 0 1 0 4.4 0M536.9 246.3a2.2 2.2 0 1 0 -4.4 0a2.2 2.2 0 1 0 4.4 0M496.7 270.0a2.2 2.2 0 1 0 -4.4 0a2.2 2.2 0 1 0 4.4 0M505.9 210.3a2.2 2.2 0 1 0 -4.4 0a2.2 2.2 0 1 0 4.4 0M528.0 269.8a2.2 2.2 0 1 0 -4.4 0a2.2 2.2 0 1 0 4.4 0M481.1 253.4a2.2 2.2 0 1 0 -4.4 0a2.2 2.2 0 1 0 4.4 0M525.5 258.3a2.2 2.2 0 1 0 -4.4 0a2.2 2.2 0 1 0 4.4 0M448.7 248.3a2.2 2.2 0 1 0 -4.4 0a2.2 2.2 0 1 0 4.4 0M499.6 253.7a2.2 2.2 0 1 0 -4.4 0a2.2 2.2 0 1 0 4.4 0M463.3 258.9a2.2 2.2 0 1 0 -4.4 0a2.2 2.2 0 1 0 4.4 0M507.0 270.2a2.2 2.2 0 1 0 -4.4 0a2.2 2.2 0 1 0 4.4 0M509.1 229.7a2.2 2.2 0 1 0 -4.4 0a2.2 2.2 0 1 0 4.4 0M533.6 255.0a2.2 2.2 0 1 0 -4.4 0a2.2 2.2 0 1 0 4.4 0M433.3 212.0a2.2 2.2 0 1 0 -4.4 0a2.2 2.2 0 1 0 4.4 0M529.6 224.9a2.2 2.2 0 1 0 -4.4 0a2.2 2.2 0 1 0 4.4 0M471.8 238.8a2.2 2.2 0 1 0 -4.4 0a2.2 2.2 0 1 0 4.4 0M478.9 227.5a2.2 2.2 0 1 0 -4.4 0a2.2 2.2 0 1 0 4.4 0M529.6 233.5a2.2 2.2 0 1 0 -4.4 0a2.2 2.2 0 1 0 4.4 0M528.7 259.0a2.2 2.2 0 1 0 -4.4 0a2.2 2.2 0 1 0 4.4 0M488.3 248.2a2.2 2.2 0 1 0 -4.4 0a2.2 2.2 0 1 0 4.4 0M457.0 247.0a2.2 2.2 0 1 0 -4.4 0a2.2 2.2 0 1 0 4.4 0M503.9 251.0a2.2 2.2 0 1 0 -4.4 0a2.2 2.2 0 1 0 4.4 0M502.6 252.7a2.2 2.2 0 1 0 -4.4 0a2.2 2.2 0 1 0 4.4 0M443.5 245.5a2.2 2.2 0 1 0 -4.4 0a2.2 2.2 0 1 0 4.4 0M468.9 226.4a2.2 2.2 0 1 0 -4.4 0a2.2 2.2 0 1 0 4.4 0M529.4 250.6a2.2 2.2 0 1 0 -4.4 0a2.2 2.2 0 1 0 4.4 0M482.2 225.1a2.2 2.2 0 1 0 -4.4 0a2.2 2.2 0 1 0 4.4 0M505.6 244.6a2.2 2.2 0 1 0 -4.4 0a2.2 2.2 0 1 0 4.4 0M499.6 232.5a2.2 2.2 0 1 0 -4.4 0a2.2 2.2 0 1 0 4.4 0M473.4 254.4a2.2 2.2 0 1 0 -4.4 0a2.2 2.2 0 1 0 4.4 0M521.9 216.5a2.2 2.2 0 1 0 -4.4 0a2.2 2.2 0 1 0 4.4 0M435.8 228.0a2.2 2.2 0 1 0 -4.4 0a2.2 2.2 0 1 0 4.4 0M528.3 265.4a2.2 2.2 0 1 0 -4.4 0a2.2 2.2 0 1 0 4.4 0M542.0 230.2a2.2 2.2 0 1 0 -4.4 0a2.2 2.2 0 1 0 4.4 0M504.8 250.5a2.2 2.2 0 1 0 -4.4 0a2.2 2.2 0 1 0 4.4 0M521.0 235.6a2.2 2.2 0 1 0 -4.4 0a2.2 2.2 0 1 0 4.4 0M431.3 235.9a2.2 2.2 0 1 0 -4.4 0a2.2 2.2 0 1 0 4.4 0M471.3 234.4a2.2 2.2 0 1 0 -4.4 0a2.2 2.2 0 1 0 4.4 0M492.4 225.6a2.2 2.2 0 1 0 -4.4 0a2.2 2.2 0 1 0 4.4 0M460.0 273.4a2.2 2.2 0 1 0 -4.4 0a2.2 2.2 0 1 0 4.4 0M541.1 252.1a2.2 2.2 0 1 0 -4.4 0a2.2 2.2 0 1 0 4.4 0M426.1 231.9a2.2 2.2 0 1 0 -4.4 0a2.2 2.2 0 1 0 4.4 0M548.3 243.4a2.2 2.2 0 1 0 -4.4 0a2.2 2.2 0 1 0 4.4 0M483.3 216.5a2.2 2.2 0 1 0 -4.4 0a2.2 2.2 0 1 0 4.4 0M542.5 240.8a2.2 2.2 0 1 0 -4.4 0a2.2 2.2 0 1 0 4.4 0M437.1 245.4a2.2 2.2 0 1 0 -4.4 0a2.2 2.2 0 1 0 4.4 0M435.3 269.1a2.2 2.2 0 1 0 -4.4 0a2.2 2.2 0 1 0 4.4 0M548.2 254.9a2.2 2.2 0 1 0 -4.4 0a2.2 2.2 0 1 0 4.4 0M519.2 229.0a2.2 2.2 0 1 0 -4.4 0a2.2 2.2 0 1 0 4.4 0M442.7 253.3a2.2 2.2 0 1 0 -4.4 0a2.2 2.2 0 1 0 4.4 0M524.2 239.9a2.2 2.2 0 1 0 -4.4 0a2.2 2.2 0 1 0 4.4 0M498.2 213.7a2.2 2.2 0 1 0 -4.4 0a2.2 2.2 0 1 0 4.4 0M521.3 227.0a2.2 2.2 0 1 0 -4.4 0a2.2 2.2 0 1 0 4.4 0M435.8 224.5a2.2 2.2 0 1 0 -4.4 0a2.2 2.2 0 1 0 4.4 0M515.7 225.3a2.2 2.2 0 1 0 -4.4 0a2.2 2.2 0 1 0 4.4 0M426.8 266.4a2.2 2.2 0 1 0 -4.4 0a2.2 2.2 0 1 0 4.4 0M515.2 227.7a2.2 2.2 0 1 0 -4.4 0a2.2 2.2 0 1 0 4.4 0M495.4 231.3a2.2 2.2 0 1 0 -4.4 0a2.2 2.2 0 1 0 4.4 0M416.4 236.7a2.2 2.2 0 1 0 -4.4 0a2.2 2.2 0 1 0 4.4 0M526.7 241.9a2.2 2.2 0 1 0 -4.4 0a2.2 2.2 0 1 0 4.4 0M462.5 233.0a2.2 2.2 0 1 0 -4.4 0a2.2 2.2 0 1 0 4.4 0M429.9 267.1a2.2 2.2 0 1 0 -4.4 0a2.2 2.2 0 1 0 4.4 0M540.5 222.5a2.2 2.2 0 1 0 -4.4 0a2.2 2.2 0 1 0 4.4 0M455.1 273.3a2.2 2.2 0 1 0 -4.4 0a2.2 2.2 0 1 0 4.4 0M472.3 266.4a2.2 2.2 0 1 0 -4.4 0a2.2 2.2 0 1 0 4.4 0M510.0 218.8a2.2 2.2 0 1 0 -4.4 0a2.2 2.2 0 1 0 4.4 0M535.1 257.0a2.2 2.2 0 1 0 -4.4 0a2.2 2.2 0 1 0 4.4 0M476.5 228.3a2.2 2.2 0 1 0 -4.4 0a2.2 2.2 0 1 0 4.4 0M528.0 216.6a2.2 2.2 0 1 0 -4.4 0a2.2 2.2 0 1 0 4.4 0M514.4 230.4a2.2 2.2 0 1 0 -4.4 0a2.2 2.2 0 1 0 4.4 0M534.7 217.5a2.2 2.2 0 1 0 -4.4 0a2.2 2.2 0 1 0 4.4 0M482.2 222.1a2.2 2.2 0 1 0 -4.4 0a2.2 2.2 0 1 0 4.4 0M505.0 241.6a2.2 2.2 0 1 0 -4.4 0a2.2 2.2 0 1 0 4.4 0M420.8 234.6a2.2 2.2 0 1 0 -4.4 0a2.2 2.2 0 1 0 4.4 0M528.8 216.0a2.2 2.2 0 1 0 -4.4 0a2.2 2.2 0 1 0 4.4 0M518.1 238.2a2.2 2.2 0 1 0 -4.4 0a2.2 2.2 0 1 0 4.4 0M449.5 241.9a2.2 2.2 0 1 0 -4.4 0a2.2 2.2 0 1 0 4.4 0M440.6 237.7a2.2 2.2 0 1 0 -4.4 0a2.2 2.2 0 1 0 4.4 0M512.3 248.2a2.2 2.2 0 1 0 -4.4 0a2.2 2.2 0 1 0 4.4 0M530.2 256.4a2.2 2.2 0 1 0 -4.4 0a2.2 2.2 0 1 0 4.4 0M476.5 224.6a2.2 2.2 0 1 0 -4.4 0a2.2 2.2 0 1 0 4.4 0M532.9 233.4a2.2 2.2 0 1 0 -4.4 0a2.2 2.2 0 1 0 4.4 0M439.6 243.7a2.2 2.2 0 1 0 -4.4 0a2.2 2.2 0 1 0 4.4 0M534.1 245.5a2.2 2.2 0 1 0 -4.4 0a2.2 2.2 0 1 0 4.4 0M434.4 259.7a2.2 2.2 0 1 0 -4.4 0a2.2 2.2 0 1 0 4.4 0M461.8 243.8a2.2 2.2 0 1 0 -4.4 0a2.2 2.2 0 1 0 4.4 0M438.4 231.2a2.2 2.2 0 1 0 -4.4 0a2.2 2.2 0 1 0 4.4 0M454.8 214.1a2.2 2.2 0 1 0 -4.4 0a2.2 2.2 0 1 0 4.4 0M503.6 236.7a2.2 2.2 0 1 0 -4.4 0a2.2 2.2 0 1 0 4.4 0M497.2 228.9a2.2 2.2 0 1 0 -4.4 0a2.2 2.2 0 1 0 4.4 0M518.8 262.4a2.2 2.2 0 1 0 -4.4 0a2.2 2.2 0 1 0 4.4 0M494.9 254.9a2.2 2.2 0 1 0 -4.4 0a2.2 2.2 0 1 0 4.4 0M443.6 242.5a2.2 2.2 0 1 0 -4.4 0a2.2 2.2 0 1 0 4.4 0M470.1 215.8a2.2 2.2 0 1 0 -4.4 0a2.2 2.2 0 1 0 4.4 0M466.6 241.5a2.2 2.2 0 1 0 -4.4 0a2.2 2.2 0 1 0 4.4 0M491.8 248.8a2.2 2.2 0 1 0 -4.4 0a2.2 2.2 0 1 0 4.4 0M478.9 245.7a2.2 2.2 0 1 0 -4.4 0a2.2 2.2 0 1 0 4.4 0M452.7 230.4a2.2 2.2 0 1 0 -4.4 0a2.2 2.2 0 1 0 4.4 0M499.3 261.6a2.2 2.2 0 1 0 -4.4 0a2.2 2.2 0 1 0 4.4 0M419.1 219.2a2.2 2.2 0 1 0 -4.4 0a2.2 2.2 0 1 0 4.4 0M539.0 239.1a2.2 2.2 0 1 0 -4.4 0a2.2 2.2 0 1 0 4.4 0M461.1 261.5a2.2 2.2 0 1 0 -4.4 0a2.2 2.2 0 1 0 4.4 0M449.6 218.2a2.2 2.2 0 1 0 -4.4 0a2.2 2.2 0 1 0 4.4 0M429.8 230.3a2.2 2.2 0 1 0 -4.4 0a2.2 2.2 0 1 0 4.4 0M518.2 241.2a2.2 2.2 0 1 0 -4.4 0a2.2 2.2 0 1 0 4.4 0M503.0 221.8a2.2 2.2 0 1 0 -4.4 0a2.2 2.2 0 1 0 4.4 0M551.2 247.5a2.2 2.2 0 1 0 -4.4 0a2.2 2.2 0 1 0 4.4 0M452.3 231.8a2.2 2.2 0 1 0 -4.4 0a2.2 2.2 0 1 0 4.4 0M513.3 241.3a2.2 2.2 0 1 0 -4.4 0a2.2 2.2 0 1 0 4.4 0M457.4 222.5a2.2 2.2 0 1 0 -4.4 0a2.2 2.2 0 1 0 4.4 0M437.6 252.8a2.2 2.2 0 1 0 -4.4 0a2.2 2.2 0 1 0 4.4 0M509.3 263.7a2.2 2.2 0 1 0 -4.4 0a2.2 2.2 0 1 0 4.4 0M501.6 273.6a2.2 2.2 0 1 0 -4.4 0a2.2 2.2 0 1 0 4.4 0M512.1 219.8a2.2 2.2 0 1 0 -4.4 0a2.2 2.2 0 1 0 4.4 0M450.4 259.4a2.2 2.2 0 1 0 -4.4 0a2.2 2.2 0 1 0 4.4 0M420.1 258.8a2.2 2.2 0 1 0 -4.4 0a2.2 2.2 0 1 0 4.4 0M468.7 266.7a2.2 2.2 0 1 0 -4.4 0a2.2 2.2 0 1 0 4.4 0M516.0 210.8a2.2 2.2 0 1 0 -4.4 0a2.2 2.2 0 1 0 4.4 0M523.1 231.7a2.2 2.2 0 1 0 -4.4 0a2.2 2.2 0 1 0 4.4 0M434.5 220.9a2.2 2.2 0 1 0 -4.4 0a2.2 2.2 0 1 0 4.4 0M432.6 208.3a2.2 2.2 0 1 0 -4.4 0a2.2 2.2 0 1 0 4.4 0M470.8 270.4a2.2 2.2 0 1 0 -4.4 0a2.2 2.2 0 1 0 4.4 0M456.3 242.2a2.2 2.2 0 1 0 -4.4 0a2.2 2.2 0 1 0 4.4 0M507.5 256.5a2.2 2.2 0 1 0 -4.4 0a2.2 2.2 0 1 0 4.4 0M523.6 264.8a2.2 2.2 0 1 0 -4.4 0a2.2 2.2 0 1 0 4.4 0M545.2 213.2a2.2 2.2 0 1 0 -4.4 0a2.2 2.2 0 1 0 4.4 0M519.7 216.2a2.2 2.2 0 1 0 -4.4 0a2.2 2.2 0 1 0 4.4 0M445.8 241.3a2.2 2.2 0 1 0 -4.4 0a2.2 2.2 0 1 0 4.4 0M458.6 274.5a2.2 2.2 0 1 0 -4.4 0a2.2 2.2 0 1 0 4.4 0M437.0 240.4a2.2 2.2 0 1 0 -4.4 0a2.2 2.2 0 1 0 4.4 0M451.9 236.7a2.2 2.2 0 1 0 -4.4 0a2.2 2.2 0 1 0 4.4 0M520.0 227.9a2.2 2.2 0 1 0 -4.4 0a2.2 2.2 0 1 0 4.4 0M490.1 228.4a2.2 2.2 0 1 0 -4.4 0a2.2 2.2 0 1 0 4.4 0M435.8 242.7a2.2 2.2 0 1 0 -4.4 0a2.2 2.2 0 1 0 4.4 0M464.2 230.7a2.2 2.2 0 1 0 -4.4 0a2.2 2.2 0 1 0 4.4 0M425.1 251.0a2.2 2.2 0 1 0 -4.4 0a2.2 2.2 0 1 0 4.4 0M486.5 241.4a2.2 2.2 0 1 0 -4.4 0a2.2 2.2 0 1 0 4.4 0M528.7 228.3a2.2 2.2 0 1 0 -4.4 0a2.2 2.2 0 1 0 4.4 0M451.5 270.2a2.2 2.2 0 1 0 -4.4 0a2.2 2.2 0 1 0 4.4 0M487.8 254.5a2.2 2.2 0 1 0 -4.4 0a2.2 2.2 0 1 0 4.4 0M448.7 256.5a2.2 2.2 0 1 0 -4.4 0a2.2 2.2 0 1 0 4.4 0M420.9 224.5a2.2 2.2 0 1 0 -4.4 0a2.2 2.2 0 1 0 4.4 0M448.3 259.9a2.2 2.2 0 1 0 -4.4 0a2.2 2.2 0 1 0 4.4 0M482.4 249.5a2.2 2.2 0 1 0 -4.4 0a2.2 2.2 0 1 0 4.4 0M457.5 219.1a2.2 2.2 0 1 0 -4.4 0a2.2 2.2 0 1 0 4.4 0M443.7 227.0a2.2 2.2 0 1 0 -4.4 0a2.2 2.2 0 1 0 4.4 0M439.7 253.6a2.2 2.2 0 1 0 -4.4 0a2.2 2.2 0 1 0 4.4 0M459.5 214.0a2.2 2.2 0 1 0 -4.4 0a2.2 2.2 0 1 0 4.4 0M496.8 234.5a2.2 2.2 0 1 0 -4.4 0a2.2 2.2 0 1 0 4.4 0M449.8 231.9a2.2 2.2 0 1 0 -4.4 0a2.2 2.2 0 1 0 4.4 0M475.2 214.7a2.2 2.2 0 1 0 -4.4 0a2.2 2.2 0 1 0 4.4 0M494.6 213.0a2.2 2.2 0 1 0 -4.4 0a2.2 2.2 0 1 0 4.4 0M463.4 215.6a2.2 2.2 0 1 0 -4.4 0a2.2 2.2 0 1 0 4.4 0M487.4 213.1a2.2 2.2 0 1 0 -4.4 0a2.2 2.2 0 1 0 4.4 0M508.4 257.8a2.2 2.2 0 1 0 -4.4 0a2.2 2.2 0 1 0 4.4 0M446.7 230.4a2.2 2.2 0 1 0 -4.4 0a2.2 2.2 0 1 0 4.4 0M501.9 240.2a2.2 2.2 0 1 0 -4.4 0a2.2 2.2 0 1 0 4.4 0M480.3 243.7a2.2 2.2 0 1 0 -4.4 0a2.2 2.2 0 1 0 4.4 0M542.2 240.2a2.2 2.2 0 1 0 -4.4 0a2.2 2.2 0 1 0 4.4 0M430.7 262.2a2.2 2.2 0 1 0 -4.4 0a2.2 2.2 0 1 0 4.4 0M460.1 231.7a2.2 2.2 0 1 0 -4.4 0a2.2 2.2 0 1 0 4.4 0M491.0 215.8a2.2 2.2 0 1 0 -4.4 0a2.2 2.2 0 1 0 4.4 0M496.6 256.6a2.2 2.2 0 1 0 -4.4 0a2.2 2.2 0 1 0 4.4 0M525.4 224.9a2.2 2.2 0 1 0 -4.4 0a2.2 2.2 0 1 0 4.4 0M475.9 262.9a2.2 2.2 0 1 0 -4.4 0a2.2 2.2 0 1 0 4.4 0M531.2 236.5a2.2 2.2 0 1 0 -4.4 0a2.2 2.2 0 1 0 4.4 0M439.7 236.6a2.2 2.2 0 1 0 -4.4 0a2.2 2.2 0 1 0 4.4 0M550.7 239.1a2.2 2.2 0 1 0 -4.4 0a2.2 2.2 0 1 0 4.4 0M423.6 236.2a2.2 2.2 0 1 0 -4.4 0a2.2 2.2 0 1 0 4.4 0M463.5 221.5a2.2 2.2 0 1 0 -4.4 0a2.2 2.2 0 1 0 4.4 0M496.8 232.3a2.2 2.2 0 1 0 -4.4 0a2.2 2.2 0 1 0 4.4 0M549.3 238.2a2.2 2.2 0 1 0 -4.4 0a2.2 2.2 0 1 0 4.4 0M538.9 231.9a2.2 2.2 0 1 0 -4.4 0a2.2 2.2 0 1 0 4.4 0M480.3 241.3a2.2 2.2 0 1 0 -4.4 0a2.2 2.2 0 1 0 4.4 0M514.7 230.9a2.2 2.2 0 1 0 -4.4 0a2.2 2.2 0 1 0 4.4 0M488.6 259.0a2.2 2.2 0 1 0 -4.4 0a2.2 2.2 0 1 0 4.4 0M531.1 256.1a2.2 2.2 0 1 0 -4.4 0a2.2 2.2 0 1 0 4.4 0M488.8 249.5a2.2 2.2 0 1 0 -4.4 0a2.2 2.2 0 1 0 4.4 0M490.1 228.0a2.2 2.2 0 1 0 -4.4 0a2.2 2.2 0 1 0 4.4 0M524.9 233.4a2.2 2.2 0 1 0 -4.4 0a2.2 2.2 0 1 0 4.4 0M453.9 231.2a2.2 2.2 0 1 0 -4.4 0a2.2 2.2 0 1 0 4.4 0M480.6 246.0a2.2 2.2 0 1 0 -4.4 0a2.2 2.2 0 1 0 4.4 0M470.3 248.6a2.2 2.2 0 1 0 -4.4 0a2.2 2.2 0 1 0 4.4 0M514.5 260.7a2.2 2.2 0 1 0 -4.4 0a2.2 2.2 0 1 0 4.4 0M507.3 221.4a2.2 2.2 0 1 0 -4.4 0a2.2 2.2 0 1 0 4.4 0M506.1 234.1a2.2 2.2 0 1 0 -4.4 0a2.2 2.2 0 1 0 4.4 0M557.3 226.2a2.2 2.2 0 1 0 -4.4 0a2.2 2.2 0 1 0 4.4 0M451.7 236.7a2.2 2.2 0 1 0 -4.4 0a2.2 2.2 0 1 0 4.4 0M544.6 243.6a2.2 2.2 0 1 0 -4.4 0a2.2 2.2 0 1 0 4.4 0M497.1 260.6a2.2 2.2 0 1 0 -4.4 0a2.2 2.2 0 1 0 4.4 0M510.8 257.1a2.2 2.2 0 1 0 -4.4 0a2.2 2.2 0 1 0 4.4 0M474.2 259.2a2.2 2.2 0 1 0 -4.4 0a2.2 2.2 0 1 0 4.4 0M510.8 266.2a2.2 2.2 0 1 0 -4.4 0a2.2 2.2 0 1 0 4.4 0M453.4 243.5a2.2 2.2 0 1 0 -4.4 0a2.2 2.2 0 1 0 4.4 0M521.6 238.9a2.2 2.2 0 1 0 -4.4 0a2.2 2.2 0 1 0 4.4 0M486.1 243.8a2.2 2.2 0 1 0 -4.4 0a2.2 2.2 0 1 0 4.4 0M473.7 262.6a2.2 2.2 0 1 0 -4.4 0a2.2 2.2 0 1 0 4.4 0M505.3 219.9a2.2 2.2 0 1 0 -4.4 0a2.2 2.2 0 1 0 4.4 0M487.5 235.9a2.2 2.2 0 1 0 -4.4 0a2.2 2.2 0 1 0 4.4 0M513.5 253.3a2.2 2.2 0 1 0 -4.4 0a2.2 2.2 0 1 0 4.4 0M499.3 263.2a2.2 2.2 0 1 0 -4.4 0a2.2 2.2 0 1 0 4.4 0M462.4 249.0a2.2 2.2 0 1 0 -4.4 0a2.2 2.2 0 1 0 4.4 0M521.0 257.7a2.2 2.2 0 1 0 -4.4 0a2.2 2.2 0 1 0 4.4 0M485.9 260.3a2.2 2.2 0 1 0 -4.4 0a2.2 2.2 0 1 0 4.4 0M484.2 262.6a2.2 2.2 0 1 0 -4.4 0a2.2 2.2 0 1 0 4.4 0M455.2 234.8a2.2 2.2 0 1 0 -4.4 0a2.2 2.2 0 1 0 4.4 0M449.5 254.1a2.2 2.2 0 1 0 -4.4 0a2.2 2.2 0 1 0 4.4 0M528.3 250.5a2.2 2.2 0 1 0 -4.4 0a2.2 2.2 0 1 0 4.4 0M483.5 257.0a2.2 2.2 0 1 0 -4.4 0a2.2 2.2 0 1 0 4.4 0M450.5 231.7a2.2 2.2 0 1 0 -4.4 0a2.2 2.2 0 1 0 4.4 0M481.7 227.2a2.2 2.2 0 1 0 -4.4 0a2.2 2.2 0 1 0 4.4 0M449.6 233.1a2.2 2.2 0 1 0 -4.4 0a2.2 2.2 0 1 0 4.4 0M525.9 247.8a2.2 2.2 0 1 0 -4.4 0a2.2 2.2 0 1 0 4.4 0M499.3 272.7a2.2 2.2 0 1 0 -4.4 0a2.2 2.2 0 1 0 4.4 0M450.0 236.4a2.2 2.2 0 1 0 -4.4 0a2.2 2.2 0 1 0 4.4 0M481.3 239.5a2.2 2.2 0 1 0 -4.4 0a2.2 2.2 0 1 0 4.4 0M491.5 257.8a2.2 2.2 0 1 0 -4.4 0a2.2 2.2 0 1 0 4.4 0M460.2 260.2a2.2 2.2 0 1 0 -4.4 0a2.2 2.2 0 1 0 4.4 0M495.4 220.4a2.2 2.2 0 1 0 -4.4 0a2.2 2.2 0 1 0 4.4 0M520.2 254.1a2.2 2.2 0 1 0 -4.4 0a2.2 2.2 0 1 0 4.4 0M457.4 263.1a2.2 2.2 0 1 0 -4.4 0a2.2 2.2 0 1 0 4.4 0M528.6 247.2a2.2 2.2 0 1 0 -4.4 0a2.2 2.2 0 1 0 4.4 0M493.0 268.3a2.2 2.2 0 1 0 -4.4 0a2.2 2.2 0 1 0 4.4 0M484.4 222.2a2.2 2.2 0 1 0 -4.4 0a2.2 2.2 0 1 0 4.4 0M460.1 250.6a2.2 2.2 0 1 0 -4.4 0a2.2 2.2 0 1 0 4.4 0M467.8 231.8a2.2 2.2 0 1 0 -4.4 0a2.2 2.2 0 1 0 4.4 0M512.8 233.6a2.2 2.2 0 1 0 -4.4 0a2.2 2.2 0 1 0 4.4 0M503.3 221.3a2.2 2.2 0 1 0 -4.4 0a2.2 2.2 0 1 0 4.4 0M506.0 223.0a2.2 2.2 0 1 0 -4.4 0a2.2 2.2 0 1 0 4.4 0M481.4 231.5a2.2 2.2 0 1 0 -4.4 0a2.2 2.2 0 1 0 4.4 0M483.7 258.9a2.2 2.2 0 1 0 -4.4 0a2.2 2.2 0 1 0 4.4 0M490.3 237.1a2.2 2.2 0 1 0 -4.4 0a2.2 2.2 0 1 0 4.4 0M469.3 257.5a2.2 2.2 0 1 0 -4.4 0a2.2 2.2 0 1 0 4.4 0M474.0 229.9a2.2 2.2 0 1 0 -4.4 0a2.2 2.2 0 1 0 4.4 0M485.4 226.9a2.2 2.2 0 1 0 -4.4 0a2.2 2.2 0 1 0 4.4 0M501.7 221.1a2.2 2.2 0 1 0 -4.4 0a2.2 2.2 0 1 0 4.4 0M517.6 237.8a2.2 2.2 0 1 0 -4.4 0a2.2 2.2 0 1 0 4.4 0M499.4 265.8a2.2 2.2 0 1 0 -4.4 0a2.2 2.2 0 1 0 4.4 0M489.5 223.5a2.2 2.2 0 1 0 -4.4 0a2.2 2.2 0 1 0 4.4 0M485.7 270.9a2.2 2.2 0 1 0 -4.4 0a2.2 2.2 0 1 0 4.4 0M522.8 237.7a2.2 2.2 0 1 0 -4.4 0a2.2 2.2 0 1 0 4.4 0M457.4 263.3a2.2 2.2 0 1 0 -4.4 0a2.2 2.2 0 1 0 4.4 0M451.4 242.3a2.2 2.2 0 1 0 -4.4 0a2.2 2.2 0 1 0 4.4 0M487.1 243.3a2.2 2.2 0 1 0 -4.4 0a2.2 2.2 0 1 0 4.4 0M492.6 223.8a2.2 2.2 0 1 0 -4.4 0a2.2 2.2 0 1 0 4.4 0M512.4 250.3a2.2 2.2 0 1 0 -4.4 0a2.2 2.2 0 1 0 4.4 0M503.1 233.5a2.2 2.2 0 1 0 -4.4 0a2.2 2.2 0 1 0 4.4 0M507.4 248.2a2.2 2.2 0 1 0 -4.4 0a2.2 2.2 0 1 0 4.4 0M497.1 262.9a2.2 2.2 0 1 0 -4.4 0a2.2 2.2 0 1 0 4.4 0M500.3 252.2a2.2 2.2 0 1 0 -4.4 0a2.2 2.2 0 1 0 4.4 0M513.1 229.9a2.2 2.2 0 1 0 -4.4 0a2.2 2.2 0 1 0 4.4 0M506.5 233.9a2.2 2.2 0 1 0 -4.4 0a2.2 2.2 0 1 0 4.4 0M504.1 221.2a2.2 2.2 0 1 0 -4.4 0a2.2 2.2 0 1 0 4.4 0M473.6 256.0a2.2 2.2 0 1 0 -4.4 0a2.2 2.2 0 1 0 4.4 0M514.9 233.9a2.2 2.2 0 1 0 -4.4 0a2.2 2.2 0 1 0 4.4 0M494.3 234.0a2.2 2.2 0 1 0 -4.4 0a2.2 2.2 0 1 0 4.4 0M514.3 258.2a2.2 2.2 0 1 0 -4.4 0a2.2 2.2 0 1 0 4.4 0M470.5 228.8a2.2 2.2 0 1 0 -4.4 0a2.2 2.2 0 1 0 4.4 0M492.4 240.3a2.2 2.2 0 1 0 -4.4 0a2.2 2.2 0 1 0 4.4 0M506.7 259.3a2.2 2.2 0 1 0 -4.4 0a2.2 2.2 0 1 0 4.4 0M474.0 246.6a2.2 2.2 0 1 0 -4.4 0a2.2 2.2 0 1 0 4.4 0M516.0 231.0a2.2 2.2 0 1 0 -4.4 0a2.2 2.2 0 1 0 4.4 0M443.5 264.2a2.2 2.2 0 1 0 -4.4 0a2.2 2.2 0 1 0 4.4 0M518.5 243.7a2.2 2.2 0 1 0 -4.4 0a2.2 2.2 0 1 0 4.4 0M456.7 250.5a2.2 2.2 0 1 0 -4.4 0a2.2 2.2 0 1 0 4.4 0M506.2 229.3a2.2 2.2 0 1 0 -4.4 0a2.2 2.2 0 1 0 4.4 0M484.3 261.1a2.2 2.2 0 1 0 -4.4 0a2.2 2.2 0 1 0 4.4 0M444.6 242.3a2.2 2.2 0 1 0 -4.4 0a2.2 2.2 0 1 0 4.4 0M501.3 232.9a2.2 2.2 0 1 0 -4.4 0a2.2 2.2 0 1 0 4.4 0M518.8 256.9a2.2 2.2 0 1 0 -4.4 0a2.2 2.2 0 1 0 4.4 0M497.5 243.6a2.2 2.2 0 1 0 -4.4 0a2.2 2.2 0 1 0 4.4 0M451.5 237.3a2.2 2.2 0 1 0 -4.4 0a2.2 2.2 0 1 0 4.4 0M511.3 247.2a2.2 2.2 0 1 0 -4.4 0a2.2 2.2 0 1 0 4.4 0M503.5 233.3a2.2 2.2 0 1 0 -4.4 0a2.2 2.2 0 1 0 4.4 0M453.8 260.4a2.2 2.2 0 1 0 -4.4 0a2.2 2.2 0 1 0 4.4 0M500.7 273.9a2.2 2.2 0 1 0 -4.4 0a2.2 2.2 0 1 0 4.4 0M466.9 247.8a2.2 2.2 0 1 0 -4.4 0a2.2 2.2 0 1 0 4.4 0M462.7 240.7a2.2 2.2 0 1 0 -4.4 0a2.2 2.2 0 1 0 4.4 0M501.5 222.3a2.2 2.2 0 1 0 -4.4 0a2.2 2.2 0 1 0 4.4 0M474.6 235.4a2.2 2.2 0 1 0 -4.4 0a2.2 2.2 0 1 0 4.4 0M478.4 252.8a2.2 2.2 0 1 0 -4.4 0a2.2 2.2 0 1 0 4.4 0M453.9 258.0a2.2 2.2 0 1 0 -4.4 0a2.2 2.2 0 1 0 4.4 0M472.3 274.0a2.2 2.2 0 1 0 -4.4 0a2.2 2.2 0 1 0 4.4 0M484.4 244.0a2.2 2.2 0 1 0 -4.4 0a2.2 2.2 0 1 0 4.4 0M513.6 245.7a2.2 2.2 0 1 0 -4.4 0a2.2 2.2 0 1 0 4.4 0M473.8 254.5a2.2 2.2 0 1 0 -4.4 0a2.2 2.2 0 1 0 4.4 0M454.7 235.6a2.2 2.2 0 1 0 -4.4 0a2.2 2.2 0 1 0 4.4 0M502.3 260.2a2.2 2.2 0 1 0 -4.4 0a2.2 2.2 0 1 0 4.4 0M462.6 225.7a2.2 2.2 0 1 0 -4.4 0a2.2 2.2 0 1 0 4.4 0M477.9 243.5a2.2 2.2 0 1 0 -4.4 0a2.2 2.2 0 1 0 4.4 0M442.9 241.9a2.2 2.2 0 1 0 -4.4 0a2.2 2.2 0 1 0 4.4 0M450.6 234.3a2.2 2.2 0 1 0 -4.4 0a2.2 2.2 0 1 0 4.4 0M488.2 213.3a2.2 2.2 0 1 0 -4.4 0a2.2 2.2 0 1 0 4.4 0M483.5 231.7a2.2 2.2 0 1 0 -4.4 0a2.2 2.2 0 1 0 4.4 0M469.4 264.2a2.2 2.2 0 1 0 -4.4 0a2.2 2.2 0 1 0 4.4 0M499.0 268.7a2.2 2.2 0 1 0 -4.4 0a2.2 2.2 0 1 0 4.4 0M477.8 256.9a2.2 2.2 0 1 0 -4.4 0a2.2 2.2 0 1 0 4.4 0M498.4 261.2a2.2 2.2 0 1 0 -4.4 0a2.2 2.2 0 1 0 4.4 0M479.7 258.8a2.2 2.2 0 1 0 -4.4 0a2.2 2.2 0 1 0 4.4 0M505.5 263.8a2.2 2.2 0 1 0 -4.4 0a2.2 2.2 0 1 0 4.4 0M523.4 241.1a2.2 2.2 0 1 0 -4.4 0a2.2 2.2 0 1 0 4.4 0M514.1 233.6a2.2 2.2 0 1 0 -4.4 0a2.2 2.2 0 1 0 4.4 0M491.7 270.0a2.2 2.2 0 1 0 -4.4 0a2.2 2.2 0 1 0 4.4 0M449.9 236.4a2.2 2.2 0 1 0 -4.4 0a2.2 2.2 0 1 0 4.4 0M495.4 242.2a2.2 2.2 0 1 0 -4.4 0a2.2 2.2 0 1 0 4.4 0M438.7 259.5a2.2 2.2 0 1 0 -4.4 0a2.2 2.2 0 1 0 4.4 0M522.4 252.9a2.2 2.2 0 1 0 -4.4 0a2.2 2.2 0 1 0 4.4 0M448.9 244.9a2.2 2.2 0 1 0 -4.4 0a2.2 2.2 0 1 0 4.4 0M520.6 232.3a2.2 2.2 0 1 0 -4.4 0a2.2 2.2 0 1 0 4.4 0M468.9 273.6a2.2 2.2 0 1 0 -4.4 0a2.2 2.2 0 1 0 4.4 0M490.7 240.1a2.2 2.2 0 1 0 -4.4 0a2.2 2.2 0 1 0 4.4 0M485.3 246.8a2.2 2.2 0 1 0 -4.4 0a2.2 2.2 0 1 0 4.4 0M522.0 263.7a2.2 2.2 0 1 0 -4.4 0a2.2 2.2 0 1 0 4.4 0M454.8 262.5a2.2 2.2 0 1 0 -4.4 0a2.2 2.2 0 1 0 4.4 0M483.6 238.4a2.2 2.2 0 1 0 -4.4 0a2.2 2.2 0 1 0 4.4 0M514.6 234.2a2.2 2.2 0 1 0 -4.4 0a2.2 2.2 0 1 0 4.4 0M500.1 250.3a2.2 2.2 0 1 0 -4.4 0a2.2 2.2 0 1 0 4.4 0M517.3 260.7a2.2 2.2 0 1 0 -4.4 0a2.2 2.2 0 1 0 4.4 0M468.0 251.1a2.2 2.2 0 1 0 -4.4 0a2.2 2.2 0 1 0 4.4 0M480.9 256.9a2.2 2.2 0 1 0 -4.4 0a2.2 2.2 0 1 0 4.4 0M531.9 206.8a2.2 2.2 0 1 0 -4.4 0a2.2 2.2 0 1 0 4.4 0M541.2 234.7a2.2 2.2 0 1 0 -4.4 0a2.2 2.2 0 1 0 4.4 0M516.8 216.5a2.2 2.2 0 1 0 -4.4 0a2.2 2.2 0 1 0 4.4 0M499.3 211.1a2.2 2.2 0 1 0 -4.4 0a2.2 2.2 0 1 0 4.4 0M532.8 204.9a2.2 2.2 0 1 0 -4.4 0a2.2 2.2 0 1 0 4.4 0M523.5 229.2a2.2 2.2 0 1 0 -4.4 0a2.2 2.2 0 1 0 4.4 0M546.4 225.5a2.2 2.2 0 1 0 -4.4 0a2.2 2.2 0 1 0 4.4 0M549.7 231.7a2.2 2.2 0 1 0 -4.4 0a2.2 2.2 0 1 0 4.4 0M500.0 214.8a2.2 2.2 0 1 0 -4.4 0a2.2 2.2 0 1 0 4.4 0M536.8 231.2a2.2 2.2 0 1 0 -4.4 0a2.2 2.2 0 1 0 4.4 0M521.2 213.0a2.2 2.2 0 1 0 -4.4 0a2.2 2.2 0 1 0 4.4 0M547.5 224.2a2.2 2.2 0 1 0 -4.4 0a2.2 2.2 0 1 0 4.4 0M510.0 208.4a2.2 2.2 0 1 0 -4.4 0a2.2 2.2 0 1 0 4.4 0M537.4 208.7a2.2 2.2 0 1 0 -4.4 0a2.2 2.2 0 1 0 4.4 0M539.2 217.8a2.2 2.2 0 1 0 -4.4 0a2.2 2.2 0 1 0 4.4 0M538.9 221.0a2.2 2.2 0 1 0 -4.4 0a2.2 2.2 0 1 0 4.4 0M526.8 216.5a2.2 2.2 0 1 0 -4.4 0a2.2 2.2 0 1 0 4.4 0M502.9 208.0a2.2 2.2 0 1 0 -4.4 0a2.2 2.2 0 1 0 4.4 0M513.0 202.9a2.2 2.2 0 1 0 -4.4 0a2.2 2.2 0 1 0 4.4 0M512.7 197.5a2.2 2.2 0 1 0 -4.4 0a2.2 2.2 0 1 0 4.4 0M546.6 225.4a2.2 2.2 0 1 0 -4.4 0a2.2 2.2 0 1 0 4.4 0M540.4 229.3a2.2 2.2 0 1 0 -4.4 0a2.2 2.2 0 1 0 4.4 0M543.1 222.3a2.2 2.2 0 1 0 -4.4 0a2.2 2.2 0 1 0 4.4 0M531.9 204.9a2.2 2.2 0 1 0 -4.4 0a2.2 2.2 0 1 0 4.4 0M518.1 212.2a2.2 2.2 0 1 0 -4.4 0a2.2 2.2 0 1 0 4.4 0M515.7 216.9a2.2 2.2 0 1 0 -4.4 0a2.2 2.2 0 1 0 4.4 0M530.7 218.8a2.2 2.2 0 1 0 -4.4 0a2.2 2.2 0 1 0 4.4 0M537.1 222.6a2.2 2.2 0 1 0 -4.4 0a2.2 2.2 0 1 0 4.4 0M510.3 205.6a2.2 2.2 0 1 0 -4.4 0a2.2 2.2 0 1 0 4.4 0M521.4 220.3a2.2 2.2 0 1 0 -4.4 0a2.2 2.2 0 1 0 4.4 0M545.2 221.3a2.2 2.2 0 1 0 -4.4 0a2.2 2.2 0 1 0 4.4 0M532.2 222.4a2.2 2.2 0 1 0 -4.4 0a2.2 2.2 0 1 0 4.4 0M516.0 205.4a2.2 2.2 0 1 0 -4.4 0a2.2 2.2 0 1 0 4.4 0M508.3 218.0a2.2 2.2 0 1 0 -4.4 0a2.2 2.2 0 1 0 4.4 0M489.5 210.2a2.2 2.2 0 1 0 -4.4 0a2.2 2.2 0 1 0 4.4 0M531.1 197.8a2.2 2.2 0 1 0 -4.4 0a2.2 2.2 0 1 0 4.4 0M541.8 218.7a2.2 2.2 0 1 0 -4.4 0a2.2 2.2 0 1 0 4.4 0M519.9 203.4a2.2 2.2 0 1 0 -4.4 0a2.2 2.2 0 1 0 4.4 0M516.4 209.4a2.2 2.2 0 1 0 -4.4 0a2.2 2.2 0 1 0 4.4 0M542.9 222.4a2.2 2.2 0 1 0 -4.4 0a2.2 2.2 0 1 0 4.4 0" stroke="#c01cc8" stroke-width="1.1" fill="none" filter="url(#bl)"/>
<path d="M368.79 287.22L368.80 285.83L368.83 284.44L368.88 283.06L368.94 281.67L369.02 280.28L369.12 278.90L369.24 277.51L369.38 276.12L369.54 274.74L369.71 273.35L369.90 271.96L370.11 270.58L370.34 269.19L370.58 267.81L370.85 266.42L371.13 265.03L371.43 263.65L371.75 262.26L372.08 260.87L372.44 259.49L372.81 258.10L373.20 256.71L373.60 255.33L374.03 253.94L374.47 252.55L374.92 251.17L375.40 249.78L375.89 248.39L376.40 247.01L376.93 245.62L377.48 244.23L378.04 242.85L378.61 241.46L379.21 240.07L379.82 238.69L380.45 237.30L381.09 235.92L381.75 234.53L382.43 233.14L383.12 231.76L383.83 230.37L384.56 228.98L385.30 227.60L386.06 226.21L386.83 224.82L387.62 223.44L388.42 222.05L389.24 220.66L390.07 219.28L390.92 217.89L391.79 216.50L392.67 215.12L393.56 213.73L394.47 212.34L395.39 210.96L396.33 209.57L397.28 208.19L398.25 206.80L399.23 205.41L400.22 204.03L401.23 202.64L402.25 201.25L403.29 199.87L404.34 198.48L405.40 197.09L406.47 195.71L407.56 194.32L408.66 192.93L409.78 191.55L410.91 190.16L412.05 188.77L413.20 187.39L414.36 186.00L415.54 184.61L416.73 183.23L417.93 181.84L419.15 180.45L420.37 179.07L421.61 177.68L422.86 176.30L424.12 174.91L425.39 173.52L426.67 172.14L427.97 170.75L429.27 169.36L430.59 167.98L431.91 166.59L433.25 165.20L434.60 163.82L435.96 162.43L437.33 161.04L438.71 159.66L440.10 158.27L441.50 156.88L442.91 155.50L444.33 154.11L445.76 152.72L447.19 151.34L448.64 149.95L450.10 148.56L451.57 147.18L453.04 145.79L454.53 144.41L456.02 143.02L457.53 141.63L459.04 140.25L460.56 138.86L462.09 137.47L463.63 136.09L465.18 134.70L466.73 133.31L468.29 131.93L469.87 130.54L471.45 129.15L473.03 127.77L474.63 126.38L476.23 124.99L477.84 123.61L479.46 122.22L481.09 120.83L482.72 119.45L484.36 118.06L486.01 116.68L487.67 115.29L489.33 113.90L491.00 112.52L492.68 111.13L494.36 109.74L496.05 108.36L497.75 106.97L499.45 105.58L501.16 104.20L502.88 102.81L504.60 101.42L506.33 100.04L508.07 98.65L509.81 97.26L511.56 95.88L513.31 94.49L515.08 93.10L516.84 91.72L518.62 90.33L520.39 88.94L522.18 87.56L523.97 86.17L525.76 84.79L527.56 83.40L529.37 82.01L531.18 80.63L533.00 79.24L534.82 77.85L536.65 76.47L538.49 75.08L540.32 73.69L542.17 72.31L544.02 70.92L545.87 69.53L547.73 68.15L549.59 66.76L551.46 65.37L553.33 63.99L555.21 62.60L557.09 61.21L558.98 59.83L560.87 58.44L562.77 57.05L564.67 55.67L566.57 54.28L568.48 52.90L570.40 51.51L572.31 50.12L574.24 48.74L576.16 47.35L578.09 45.96L580.03 44.58L581.97 43.19L583.91 41.80L585.86 40.42L587.81 39.03L589.76 37.64L591.72 36.26L593.68 34.87L595.65 33.48L597.62 32.10L599.59 30.71L601.57 29.32L603.55 27.94L605.53 26.55L607.52 25.17L609.51 23.78L611.50 22.39L613.50 21.01L615.50 19.62L617.51 18.23L619.51 16.85L621.52 15.46L623.54 14.07L625.56 12.69L627.58 11.30" stroke="#000" stroke-width="1.6" stroke-dasharray="6 4" fill="none" transform="translate(0.6 -0.3)"/>
<path d="M368.79 287.22L368.80 285.93L368.83 284.64L368.87 283.35L368.92 282.06L368.99 280.77L369.08 279.49L369.18 278.20L369.30 276.91L369.43 275.62L369.58 274.33L369.75 273.04L369.93 271.76L370.13 270.47L370.34 269.18L370.57 267.89L370.81 266.60L371.07 265.31L371.35 264.03L371.64 262.74L371.94 261.45L372.26 260.16L372.60 258.87L372.95 257.58L373.32 256.29L373.70 255.01L374.09 253.72L374.51 252.43L374.93 251.14L375.38 249.85L375.83 248.56L376.30 247.28L376.79 245.99L377.29 244.70L377.81 243.41L378.34 242.12L378.88 240.83L379.44 239.55L380.01 238.26L380.60 236.97L383.12 233.40L384.94 230.45L386.77 227.59L388.59 224.81L390.41 222.11L392.23 219.49L394.05 216.95L395.88 214.48L397.70 212.09L399.52 209.76L401.34 207.50L403.16 205.31L404.99 203.18L406.81 201.12L408.63 199.11L410.45 197.16L412.27 195.27L414.10 193.43L415.92 191.64L417.74 189.90L419.56 188.21L421.38 186.57L423.21 184.96L425.03 183.40L426.85 181.88L428.67 180.39L430.49 178.94L432.32 177.53L434.14 176.14L435.96 174.78L437.78 173.45L439.61 172.14L441.43 170.86L443.25 169.59L445.07 168.35L446.89 167.11L448.72 165.90L450.54 164.69L452.36 163.50L454.18 162.31L456.00 161.13L457.83 159.96L459.65 158.78L461.47 157.60L463.29 156.42L465.11 155.24L466.94 154.05L468.76 152.85L470.58 151.64L472.40 150.42L474.22 149.18L476.05 147.93L477.87 146.65L479.69 145.36L481.51 144.04L483.33 142.69L485.16 141.32L486.98 139.92L488.80 138.49" stroke="#cc1414" stroke-width="2.5" fill="none" stroke-linejoin="round"/>
<path d="M368.79 287.22L368.81 285.63L368.84 284.04L368.90 282.45L368.99 280.86L369.10 279.27L369.23 277.68L369.38 276.09L369.56 274.50L369.77 272.91L370.00 271.32L370.25 269.73L370.52 268.14L370.82 266.55L371.14 264.96L371.49 263.37L371.86 261.78L372.25 260.19L372.67 258.60L373.11 257.01L373.57 255.42L374.06 253.84L374.57 252.25L375.10 250.66L375.65 249.07L376.23 247.48L376.83 245.89L377.45 244.30L378.09 242.71L378.76 241.12" stroke="#200" stroke-width="1.2" stroke-dasharray="6 4" fill="none" opacity="0.85"/>
<path d="M488.98 138.03C500.92 131.39 538.34 110.40 560.60 98.14C582.86 85.88 605.36 73.63 622.55 64.45C639.73 55.26 646.47 51.89 663.71 43.03C680.94 34.17 715.58 16.59 725.96 11.30" stroke="#000" stroke-width="1.6" stroke-dasharray="6 4" fill="none"/>
<path d="M46.1 340.0L488.8 138.6" stroke="#000" stroke-width="2.3" fill="none"/>
<path d="M609.0 189.5L613.2 196.5L604.8 196.5ZM579.5 235.7L583.7 242.7L575.3 242.7ZM617.9 312.8L622.1 319.8L613.7 319.8ZM394.1 306.8L398.3 313.8L389.9 313.8Z" fill="#0a0ab8"/>
<circle cx="368.75" cy="287.2" r="2.4" fill="#0a0ab8"/>
<path d="M42.6 336.5l6 6M48.6 336.5l-6 6" stroke="#0a0ab8" stroke-width="2"/>
<path d="M488.80 131.60L490.50 136.25L495.46 136.44L491.56 139.50L492.91 144.26L488.80 141.50L484.69 144.26L486.04 139.50L482.14 136.44L487.10 136.25Z" fill="#e8101a"/>
<rect x="384.5" y="211.5" width="33" height="19.5" fill="#fffff0" stroke="#c0c0a8" stroke-width="0.8"/>
<rect x="378.8" y="234.7" width="5" height="5" fill="#111"/>
<text x="386.6" y="221" font-family="Liberation Sans" font-size="6.9" fill="#222" stroke="#222" stroke-width="0.25" textLength="24.3" lengthAdjust="spacingAndGlyphs">X: 3.256</text>
<text x="386.6" y="229.3" font-family="Liberation Sans" font-size="6.9" fill="#222" stroke="#222" stroke-width="0.25" textLength="28" lengthAdjust="spacingAndGlyphs">Y: 0.2943</text>
<g font-family="Liberation Serif" font-style="italic" font-weight="bold" font-size="13" fill="#000" stroke="#000" stroke-width="0.25"><text transform="translate(46.6 384.6) skewX(-7)" text-anchor="middle">0</text><text transform="translate(149.5 384.6) skewX(-7)" text-anchor="middle">1</text><text transform="translate(252.4 384.6) skewX(-7)" text-anchor="middle">2</text><text transform="translate(355.3 384.6) skewX(-7)" text-anchor="middle">3</text><text transform="translate(458.2 384.6) skewX(-7)" text-anchor="middle">4</text><text transform="translate(561.1 384.6) skewX(-7)" text-anchor="middle">5</text><text transform="translate(42.5 373.0) skewX(-7)" text-anchor="end">0</text><text transform="translate(42.5 328.4) skewX(-7)" text-anchor="end">0.1</text><text transform="translate(42.5 283.8) skewX(-7)" text-anchor="end">0.2</text><text transform="translate(42.5 239.1) skewX(-7)" text-anchor="end">0.3</text><text transform="translate(42.5 194.5) skewX(-7)" text-anchor="end">0.4</text><text transform="translate(42.5 149.9) skewX(-7)" text-anchor="end">0.5</text><text transform="translate(42.5 105.2) skewX(-7)" text-anchor="end">0.6</text><text transform="translate(42.5 60.6) skewX(-7)" text-anchor="end">0.7</text></g>
<text transform="translate(407 400.3) skewX(-7)" text-anchor="middle" font-family="Liberation Serif" font-style="italic" font-weight="bold" font-size="13.5" fill="#000" stroke="#000" stroke-width="0.3">Portfolio Risk σ</text>
<text transform="translate(21.3 245.5) rotate(-90) skewX(-7)" text-anchor="start" font-family="Liberation Serif" font-style="italic" font-weight="bold" font-size="13.8" fill="#000" stroke="#000" stroke-width="0.3">EXP Return</text>
<text transform="translate(21.6 152.4) rotate(-90)" text-anchor="middle" font-family="Liberation Serif" font-style="italic" font-size="14" fill="#000" stroke="#000" stroke-width="0.15">(%)</text>
<circle cx="97.8" cy="34.6" r="2.1" stroke="#9c5cac" stroke-width="1" fill="none"/>
<path d="M97.8 44.7L102.0 51.7L93.6 51.7Z" fill="#0a0ab8"/>
<path d="M88.7 63.8H107.8" stroke="#d41a1a" stroke-width="2.4"/>
<circle cx="97.8" cy="78.6" r="1.9" fill="#0a0ab8"/>
<path d="M88.7 92.8H107.8" stroke="#000" stroke-width="2.2"/>
<path d="M97.80 100.20L99.50 104.85L104.46 105.04L100.56 108.10L101.91 112.86L97.80 110.10L93.69 112.86L95.04 108.10L91.14 105.04L96.10 104.85Z" fill="#e8101a"/>
<g font-family="Liberation Serif" font-style="italic" font-weight="bold" font-size="12.5" fill="#000" stroke="#000" stroke-width="0.3"><text transform="translate(0 40.3) skewX(-7)" x="110.3" y="0">Solvers</text><text transform="translate(0 54.3) skewX(-7)" x="110.3" y="0">Assets</text><text transform="translate(0 69.3) skewX(-7)" x="110.3" y="0">Efficient Frontier</text><text transform="translate(0 83.9) skewX(-7)" x="110.3" y="0">Minimum Risk Point</text><text transform="translate(0 98.5) skewX(-7)" x="110.3" y="0">Capital Market Line</text><text transform="translate(0 112.9) skewX(-7)" x="110.3" y="0">Max Sharpe Ratio Point</text></g>
<rect x="663.9" y="366" width="13.8" height="5" fill="#fff"/>
<g stroke="#b4b4b4" stroke-width="1.8" fill="none"><circle cx="598.3" cy="391.3" r="11.6"/><path d="M590.5 384L596.5 390.5M600 393.5L605.5 399M606 383.5L600.5 389.5M596 393.5L590.5 399"/></g>
<g stroke="#8c8c8c" stroke-width="0.8" fill="none" opacity="0.6"><path d="M609.5 393A11.6 11.6 0 0 1 592 401.5"/></g>
<path transform="translate(617.4 380.8) scale(1.07)" d="M2 1.5H18M1.5 8V4.5H18.5V8M10 1.5V9M4.5 5.8H8M4.5 7.8H8M12 5.8H15.5M12 7.8H15.5M3 11H17V19M4 15H17M2 19H17" stroke="#b0b0b0" stroke-width="1.87" fill="none" /><path transform="translate(644 381.2) scale(1.1)" d="M1 3H7M1.5 9H6.5M4 3V15.5M1 17L7 14M8 6H19M13.5 1V18.5L11.5 17.5M16 2L18 4M9 9L12 12M8 17L13 12M15 11L19 17" stroke="#b0b0b0" stroke-width="1.82" fill="none" />
<text x="688" y="398" font-family="Liberation Sans" font-size="18" fill="#bdbdbd">c</text><text x="697.5" y="398" font-family="Liberation Sans" font-size="17" fill="#bdbdbd">K</text>
<path transform="translate(714 382) scale(0.95)" d="M10 1V18.5L8 17M5 7L2 14M15 7L18 13" stroke="#b4b4b4" stroke-width="2.00" fill="none" /><path transform="translate(735 382) scale(0.95)" d="M3.5 2V12L1 18.5M3.5 2H16V16.5Q16 18.5 19 18.5M6.5 6L13 15M13 6L6.5 15" stroke="#b4b4b4" stroke-width="2.00" fill="none" /><path transform="translate(756.4 382) scale(0.95)" d="M2 2H18M5 4.5H10V7.5H5ZM15 2V9.5L13 8.5M1 11H19M5 13.5H10V16.5H5ZM16 11V19L14 18" stroke="#b4b4b4" stroke-width="2.00" fill="none" />
<path transform="translate(696.7 371.2) scale(0.88)" d="M2 1.5H18M1.5 8V4.5H18.5V8M10 1.5V9M4.5 5.8H8M4.5 7.8H8M12 5.8H15.5M12 7.8H15.5M3 11H17V19M4 15H17M2 19H17" stroke="#3a3a3a" stroke-width="1.25" fill="none" stroke-dasharray="3 3.5"/><path transform="translate(716 371.2) scale(0.85)" d="M10 1V18.5L8 17M5 7L2 14M15 7L18 13" stroke="#3a3a3a" stroke-width="1.29" fill="none" stroke-dasharray="3 3.5"/><path transform="translate(736 371.2) scale(0.85)" d="M3.5 2V12L1 18.5M3.5 2H16V16.5Q16 18.5 19 18.5M6.5 6L13 15M13 6L6.5 15" stroke="#3a3a3a" stroke-width="1.29" fill="none" stroke-dasharray="3 3.5"/><path transform="translate(755.2 371.2) scale(0.9)" d="M2 2H18M5 4.5H10V7.5H5ZM15 2V9.5L13 8.5M1 11H19M5 13.5H10V16.5H5ZM16 11V19L14 18" stroke="#3a3a3a" stroke-width="1.22" fill="none" stroke-dasharray="3 3.5"/>
<circle cx="679.5" cy="382.8" r="8.6" stroke="#555" stroke-width="0.9" fill="none" stroke-dasharray="7 2"/>
<path d="M674 379h3M683 379h3" stroke="#666" stroke-width="0.9"/>
<circle cx="662.2" cy="383.4" r="1.2" fill="#222"/><path d="M662.2 383.4H671" stroke="#777" stroke-width="0.7"/>
</g>
</svg></body></html>
